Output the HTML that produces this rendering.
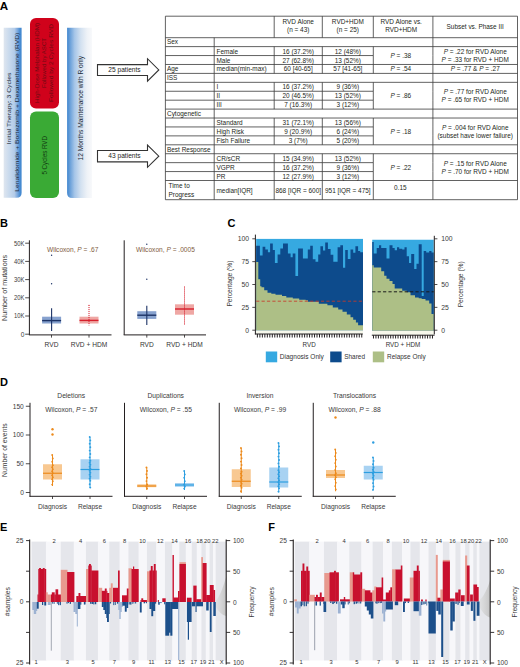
<!DOCTYPE html>
<html><head><meta charset="utf-8"><title>Figure</title>
<style>html,body{margin:0;padding:0;background:#fff;} svg{display:block;} text{font-family:"Liberation Sans", sans-serif;}</style>
</head><body>
<svg width="520" height="667" viewBox="0 0 520 667" font-family='"Liberation Sans", sans-serif' fill="#231f20">
<rect x="0" y="0" width="520" height="667" fill="#fff"/>
<text x="-0.20" y="9.66" font-size="11.6" fill="#000" font-weight="bold">A</text>
<defs>
<linearGradient id="gL" x1="0" x2="1" y1="0" y2="0"><stop offset="0" stop-color="#dfe6ef"/><stop offset="0.3" stop-color="#c9daed"/><stop offset="0.6" stop-color="#b3cbe8"/><stop offset="0.76" stop-color="#7eaade"/><stop offset="0.9" stop-color="#4a8dd2"/><stop offset="1" stop-color="#3f86cf"/></linearGradient>
<linearGradient id="gR" x1="0" x2="1" y1="0" y2="0"><stop offset="0" stop-color="#3f86cf"/><stop offset="0.12" stop-color="#6aa0d9"/><stop offset="0.3" stop-color="#a5c5e8"/><stop offset="0.55" stop-color="#d3e1f0"/><stop offset="0.8" stop-color="#eef2f7"/><stop offset="1" stop-color="#f8f9fb"/></linearGradient>
<linearGradient id="gX" x1="0" x2="1" y1="0" y2="0"><stop offset="0" stop-color="#d0d0d0" stop-opacity="0.3"/><stop offset="1" stop-color="#b8b8b8"/></linearGradient>
</defs>
<path d="M3.7,27.8 H21.6 V192.7 Q21.6,197.7 16.6,197.7 H3.7 Z" fill="url(#gL)"/>
<text transform="translate(9.30,108.50) rotate(-90)" x="0" y="2.17" font-size="6.2" text-anchor="middle" fill="#1d2b3a" textLength="72" lengthAdjust="spacingAndGlyphs">Initial  Therapy: 3 Cycles</text>
<text transform="translate(16.70,112.20) rotate(-90)" x="0" y="2.17" font-size="6.2" text-anchor="middle" fill="#1d2b3a" textLength="159" lengthAdjust="spacingAndGlyphs">Lenalidomide + Bortezomib + Dexamethasone (RVD)</text>
<rect x="30" y="18" width="29" height="90.5" rx="6" fill="#d0021b"/>
<text transform="translate(37.50,63.00) rotate(-90)" x="0" y="1.96" font-size="5.6" text-anchor="middle" fill="#6e0a12" textLength="80" lengthAdjust="spacingAndGlyphs">High-Dose Melphalan (HDM)</text>
<text transform="translate(44.50,63.00) rotate(-90)" x="0" y="1.96" font-size="5.6" text-anchor="middle" fill="#6e0a12" textLength="50" lengthAdjust="spacingAndGlyphs">Followed by ASCT</text>
<text transform="translate(51.50,63.00) rotate(-90)" x="0" y="1.96" font-size="5.6" text-anchor="middle" fill="#6e0a12" textLength="78" lengthAdjust="spacingAndGlyphs">Followed by 2 Cycles RVD</text>
<rect x="30" y="111.5" width="29" height="86.5" rx="6" fill="#3aaa35"/>
<text transform="translate(44.60,155.30) rotate(-90)" x="0" y="2.20" font-size="6.3" text-anchor="middle" fill="#123d12" textLength="38.6" lengthAdjust="spacingAndGlyphs">5 Cycles RVD</text>
<path d="M72.1,27.8 H92 V197.9 H72.1 Q67.1,197.9 67.1,192.9 V27.8 Z" fill="url(#gR)"/>
<text transform="translate(80.90,108.20) rotate(-90)" x="0" y="2.20" font-size="6.3" text-anchor="middle" fill="#1d2b3a" textLength="104.7" lengthAdjust="spacingAndGlyphs">12 Months Maintenance with R only</text>
<path d="M97.5,64.6 H147.5 V58.7 L158.8,69.9 L147.5,81.2 V75.5 H97.5 Z" fill="#fff" stroke="#333" stroke-width="1.1"/>
<text x="124.50" y="72.25" font-size="6.3" text-anchor="middle" fill="#222" textLength="32.3" lengthAdjust="spacingAndGlyphs">25 patients</text>
<path d="M97.5,150.5 H147.5 V145 L158.8,156.2 L147.5,167.3 V161.9 H97.5 Z" fill="#fff" stroke="#333" stroke-width="1.1"/>
<text x="124.50" y="158.41" font-size="6.3" text-anchor="middle" fill="#222" textLength="32.3" lengthAdjust="spacingAndGlyphs">43 patients</text>
<line x1="165.40" y1="16.20" x2="517.50" y2="16.20" stroke="#3a3a3a" stroke-width="0.8" />
<line x1="165.40" y1="199.70" x2="517.50" y2="199.70" stroke="#3a3a3a" stroke-width="0.8" />
<line x1="165.40" y1="16.20" x2="165.40" y2="199.70" stroke="#3a3a3a" stroke-width="0.8" />
<line x1="517.50" y1="16.20" x2="517.50" y2="199.70" stroke="#3a3a3a" stroke-width="0.8" />
<line x1="274.20" y1="16.20" x2="274.20" y2="37.70" stroke="#3a3a3a" stroke-width="0.8" />
<line x1="322.30" y1="16.20" x2="322.30" y2="37.70" stroke="#3a3a3a" stroke-width="0.8" />
<line x1="373.30" y1="16.20" x2="373.30" y2="37.70" stroke="#3a3a3a" stroke-width="0.8" />
<line x1="432.90" y1="16.20" x2="432.90" y2="37.70" stroke="#3a3a3a" stroke-width="0.8" />
<line x1="165.40" y1="37.70" x2="517.50" y2="37.70" stroke="#3a3a3a" stroke-width="0.8" />
<text x="298.20" y="24.26" font-size="6.45" text-anchor="middle">RVD Alone</text>
<text x="298.20" y="31.56" font-size="6.45" text-anchor="middle">(n = 43)</text>
<text x="347.80" y="24.26" font-size="6.45" text-anchor="middle">RVD+HDM</text>
<text x="347.80" y="31.56" font-size="6.45" text-anchor="middle">(n = 25)</text>
<text x="401.20" y="24.26" font-size="6.45" text-anchor="middle">RVD Alone vs.</text>
<text x="401.20" y="31.56" font-size="6.45" text-anchor="middle">RVD+HDM</text>
<text x="475.20" y="28.76" font-size="6.45" text-anchor="middle">Subset vs. Phase III</text>
<line x1="165.40" y1="46.62" x2="517.50" y2="46.62" stroke="#3a3a3a" stroke-width="0.8" />
<line x1="214.20" y1="37.70" x2="214.20" y2="46.62" stroke="#3a3a3a" stroke-width="0.8" />
<line x1="432.90" y1="37.70" x2="432.90" y2="46.62" stroke="#3a3a3a" stroke-width="0.8" />
<text x="167.00" y="44.42" font-size="6.45">Sex</text>
<line x1="165.40" y1="55.55" x2="373.30" y2="55.55" stroke="#3a3a3a" stroke-width="0.8" />
<line x1="214.20" y1="46.62" x2="214.20" y2="55.55" stroke="#3a3a3a" stroke-width="0.8" />
<line x1="274.20" y1="46.62" x2="274.20" y2="55.55" stroke="#3a3a3a" stroke-width="0.8" />
<line x1="322.30" y1="46.62" x2="322.30" y2="55.55" stroke="#3a3a3a" stroke-width="0.8" />
<line x1="373.30" y1="46.62" x2="373.30" y2="55.55" stroke="#3a3a3a" stroke-width="0.8" />
<line x1="432.90" y1="46.62" x2="432.90" y2="55.55" stroke="#3a3a3a" stroke-width="0.8" />
<text x="216.50" y="53.65" font-size="6.45">Female</text>
<text x="298.20" y="53.65" font-size="6.45" text-anchor="middle">16 (37.2%)</text>
<text x="347.80" y="53.65" font-size="6.45" text-anchor="middle">12 (48%)</text>
<line x1="165.40" y1="64.48" x2="517.50" y2="64.48" stroke="#3a3a3a" stroke-width="0.8" />
<line x1="214.20" y1="55.55" x2="214.20" y2="64.48" stroke="#3a3a3a" stroke-width="0.8" />
<line x1="274.20" y1="55.55" x2="274.20" y2="64.48" stroke="#3a3a3a" stroke-width="0.8" />
<line x1="322.30" y1="55.55" x2="322.30" y2="64.48" stroke="#3a3a3a" stroke-width="0.8" />
<line x1="373.30" y1="55.55" x2="373.30" y2="64.48" stroke="#3a3a3a" stroke-width="0.8" />
<line x1="432.90" y1="55.55" x2="432.90" y2="64.48" stroke="#3a3a3a" stroke-width="0.8" />
<text x="216.50" y="62.57" font-size="6.45">Male</text>
<text x="298.20" y="62.57" font-size="6.45" text-anchor="middle">27 (62.8%)</text>
<text x="347.80" y="62.57" font-size="6.45" text-anchor="middle">13 (52%)</text>
<line x1="165.40" y1="73.40" x2="517.50" y2="73.40" stroke="#3a3a3a" stroke-width="0.8" />
<line x1="214.20" y1="64.48" x2="214.20" y2="73.40" stroke="#3a3a3a" stroke-width="0.8" />
<line x1="274.20" y1="64.48" x2="274.20" y2="73.40" stroke="#3a3a3a" stroke-width="0.8" />
<line x1="322.30" y1="64.48" x2="322.30" y2="73.40" stroke="#3a3a3a" stroke-width="0.8" />
<line x1="373.30" y1="64.48" x2="373.30" y2="73.40" stroke="#3a3a3a" stroke-width="0.8" />
<line x1="432.90" y1="64.48" x2="432.90" y2="73.40" stroke="#3a3a3a" stroke-width="0.8" />
<text x="216.50" y="71.49" font-size="6.45">median(min-max)</text>
<text x="298.20" y="71.49" font-size="6.45" text-anchor="middle">60 [40-65]</text>
<text x="347.80" y="71.49" font-size="6.45" text-anchor="middle">57 [41-65]</text>
<text x="167.00" y="71.19" font-size="6.45">Age</text>
<line x1="165.40" y1="82.33" x2="517.50" y2="82.33" stroke="#3a3a3a" stroke-width="0.8" />
<line x1="214.20" y1="73.40" x2="214.20" y2="82.33" stroke="#3a3a3a" stroke-width="0.8" />
<line x1="432.90" y1="73.40" x2="432.90" y2="82.33" stroke="#3a3a3a" stroke-width="0.8" />
<text x="167.00" y="80.12" font-size="6.45">ISS</text>
<line x1="165.40" y1="91.25" x2="373.30" y2="91.25" stroke="#3a3a3a" stroke-width="0.8" />
<line x1="214.20" y1="82.33" x2="214.20" y2="91.25" stroke="#3a3a3a" stroke-width="0.8" />
<line x1="274.20" y1="82.33" x2="274.20" y2="91.25" stroke="#3a3a3a" stroke-width="0.8" />
<line x1="322.30" y1="82.33" x2="322.30" y2="91.25" stroke="#3a3a3a" stroke-width="0.8" />
<line x1="373.30" y1="82.33" x2="373.30" y2="91.25" stroke="#3a3a3a" stroke-width="0.8" />
<line x1="432.90" y1="82.33" x2="432.90" y2="91.25" stroke="#3a3a3a" stroke-width="0.8" />
<text x="216.50" y="89.34" font-size="6.45">I</text>
<text x="298.20" y="89.34" font-size="6.45" text-anchor="middle">16 (37.2%)</text>
<text x="347.80" y="89.34" font-size="6.45" text-anchor="middle">9 (36%)</text>
<line x1="165.40" y1="100.18" x2="373.30" y2="100.18" stroke="#3a3a3a" stroke-width="0.8" />
<line x1="214.20" y1="91.25" x2="214.20" y2="100.18" stroke="#3a3a3a" stroke-width="0.8" />
<line x1="274.20" y1="91.25" x2="274.20" y2="100.18" stroke="#3a3a3a" stroke-width="0.8" />
<line x1="322.30" y1="91.25" x2="322.30" y2="100.18" stroke="#3a3a3a" stroke-width="0.8" />
<line x1="373.30" y1="91.25" x2="373.30" y2="100.18" stroke="#3a3a3a" stroke-width="0.8" />
<line x1="432.90" y1="91.25" x2="432.90" y2="100.18" stroke="#3a3a3a" stroke-width="0.8" />
<text x="216.50" y="98.27" font-size="6.45">II</text>
<text x="298.20" y="98.27" font-size="6.45" text-anchor="middle">20 (46.5%)</text>
<text x="347.80" y="98.27" font-size="6.45" text-anchor="middle">13 (52%)</text>
<line x1="165.40" y1="109.10" x2="517.50" y2="109.10" stroke="#3a3a3a" stroke-width="0.8" />
<line x1="214.20" y1="100.18" x2="214.20" y2="109.10" stroke="#3a3a3a" stroke-width="0.8" />
<line x1="274.20" y1="100.18" x2="274.20" y2="109.10" stroke="#3a3a3a" stroke-width="0.8" />
<line x1="322.30" y1="100.18" x2="322.30" y2="109.10" stroke="#3a3a3a" stroke-width="0.8" />
<line x1="373.30" y1="100.18" x2="373.30" y2="109.10" stroke="#3a3a3a" stroke-width="0.8" />
<line x1="432.90" y1="100.18" x2="432.90" y2="109.10" stroke="#3a3a3a" stroke-width="0.8" />
<text x="216.50" y="107.20" font-size="6.45">III</text>
<text x="298.20" y="107.20" font-size="6.45" text-anchor="middle">7 (16.3%)</text>
<text x="347.80" y="107.20" font-size="6.45" text-anchor="middle">3 (12%)</text>
<line x1="165.40" y1="118.03" x2="517.50" y2="118.03" stroke="#3a3a3a" stroke-width="0.8" />
<line x1="214.20" y1="109.10" x2="214.20" y2="118.03" stroke="#3a3a3a" stroke-width="0.8" />
<line x1="432.90" y1="109.10" x2="432.90" y2="118.03" stroke="#3a3a3a" stroke-width="0.8" />
<text x="167.00" y="115.82" font-size="6.45">Cytogenetic</text>
<line x1="165.40" y1="126.95" x2="373.30" y2="126.95" stroke="#3a3a3a" stroke-width="0.8" />
<line x1="214.20" y1="118.03" x2="214.20" y2="126.95" stroke="#3a3a3a" stroke-width="0.8" />
<line x1="274.20" y1="118.03" x2="274.20" y2="126.95" stroke="#3a3a3a" stroke-width="0.8" />
<line x1="322.30" y1="118.03" x2="322.30" y2="126.95" stroke="#3a3a3a" stroke-width="0.8" />
<line x1="373.30" y1="118.03" x2="373.30" y2="126.95" stroke="#3a3a3a" stroke-width="0.8" />
<line x1="432.90" y1="118.03" x2="432.90" y2="126.95" stroke="#3a3a3a" stroke-width="0.8" />
<text x="216.50" y="125.05" font-size="6.45">Standard</text>
<text x="298.20" y="125.05" font-size="6.45" text-anchor="middle">31 (72.1%)</text>
<text x="347.80" y="125.05" font-size="6.45" text-anchor="middle">13 (56%)</text>
<line x1="165.40" y1="135.88" x2="373.30" y2="135.88" stroke="#3a3a3a" stroke-width="0.8" />
<line x1="214.20" y1="126.95" x2="214.20" y2="135.88" stroke="#3a3a3a" stroke-width="0.8" />
<line x1="274.20" y1="126.95" x2="274.20" y2="135.88" stroke="#3a3a3a" stroke-width="0.8" />
<line x1="322.30" y1="126.95" x2="322.30" y2="135.88" stroke="#3a3a3a" stroke-width="0.8" />
<line x1="373.30" y1="126.95" x2="373.30" y2="135.88" stroke="#3a3a3a" stroke-width="0.8" />
<line x1="432.90" y1="126.95" x2="432.90" y2="135.88" stroke="#3a3a3a" stroke-width="0.8" />
<text x="216.50" y="133.97" font-size="6.45">High Risk</text>
<text x="298.20" y="133.97" font-size="6.45" text-anchor="middle">9 (20.9%)</text>
<text x="347.80" y="133.97" font-size="6.45" text-anchor="middle">6 (24%)</text>
<line x1="165.40" y1="144.80" x2="517.50" y2="144.80" stroke="#3a3a3a" stroke-width="0.8" />
<line x1="214.20" y1="135.88" x2="214.20" y2="144.80" stroke="#3a3a3a" stroke-width="0.8" />
<line x1="274.20" y1="135.88" x2="274.20" y2="144.80" stroke="#3a3a3a" stroke-width="0.8" />
<line x1="322.30" y1="135.88" x2="322.30" y2="144.80" stroke="#3a3a3a" stroke-width="0.8" />
<line x1="373.30" y1="135.88" x2="373.30" y2="144.80" stroke="#3a3a3a" stroke-width="0.8" />
<line x1="432.90" y1="135.88" x2="432.90" y2="144.80" stroke="#3a3a3a" stroke-width="0.8" />
<text x="216.50" y="142.90" font-size="6.45">Fish Failure</text>
<text x="298.20" y="142.90" font-size="6.45" text-anchor="middle">3 (7%)</text>
<text x="347.80" y="142.90" font-size="6.45" text-anchor="middle">5 (20%)</text>
<line x1="165.40" y1="153.73" x2="517.50" y2="153.73" stroke="#3a3a3a" stroke-width="0.8" />
<line x1="214.20" y1="144.80" x2="214.20" y2="153.73" stroke="#3a3a3a" stroke-width="0.8" />
<line x1="432.90" y1="144.80" x2="432.90" y2="153.73" stroke="#3a3a3a" stroke-width="0.8" />
<text x="167.00" y="151.52" font-size="6.45">Best Response</text>
<line x1="165.40" y1="162.65" x2="373.30" y2="162.65" stroke="#3a3a3a" stroke-width="0.8" />
<line x1="214.20" y1="153.73" x2="214.20" y2="162.65" stroke="#3a3a3a" stroke-width="0.8" />
<line x1="274.20" y1="153.73" x2="274.20" y2="162.65" stroke="#3a3a3a" stroke-width="0.8" />
<line x1="322.30" y1="153.73" x2="322.30" y2="162.65" stroke="#3a3a3a" stroke-width="0.8" />
<line x1="373.30" y1="153.73" x2="373.30" y2="162.65" stroke="#3a3a3a" stroke-width="0.8" />
<line x1="432.90" y1="153.73" x2="432.90" y2="162.65" stroke="#3a3a3a" stroke-width="0.8" />
<text x="216.50" y="160.75" font-size="6.45">CR/sCR</text>
<text x="298.20" y="160.75" font-size="6.45" text-anchor="middle">15 (34.9%)</text>
<text x="347.80" y="160.75" font-size="6.45" text-anchor="middle">13 (52%)</text>
<line x1="165.40" y1="171.57" x2="373.30" y2="171.57" stroke="#3a3a3a" stroke-width="0.8" />
<line x1="214.20" y1="162.65" x2="214.20" y2="171.57" stroke="#3a3a3a" stroke-width="0.8" />
<line x1="274.20" y1="162.65" x2="274.20" y2="171.57" stroke="#3a3a3a" stroke-width="0.8" />
<line x1="322.30" y1="162.65" x2="322.30" y2="171.57" stroke="#3a3a3a" stroke-width="0.8" />
<line x1="373.30" y1="162.65" x2="373.30" y2="171.57" stroke="#3a3a3a" stroke-width="0.8" />
<line x1="432.90" y1="162.65" x2="432.90" y2="171.57" stroke="#3a3a3a" stroke-width="0.8" />
<text x="216.50" y="169.67" font-size="6.45">VGPR</text>
<text x="298.20" y="169.67" font-size="6.45" text-anchor="middle">16 (37.2%)</text>
<text x="347.80" y="169.67" font-size="6.45" text-anchor="middle">9 (36%)</text>
<line x1="165.40" y1="180.50" x2="517.50" y2="180.50" stroke="#3a3a3a" stroke-width="0.8" />
<line x1="214.20" y1="171.57" x2="214.20" y2="180.50" stroke="#3a3a3a" stroke-width="0.8" />
<line x1="274.20" y1="171.57" x2="274.20" y2="180.50" stroke="#3a3a3a" stroke-width="0.8" />
<line x1="322.30" y1="171.57" x2="322.30" y2="180.50" stroke="#3a3a3a" stroke-width="0.8" />
<line x1="373.30" y1="171.57" x2="373.30" y2="180.50" stroke="#3a3a3a" stroke-width="0.8" />
<line x1="432.90" y1="171.57" x2="432.90" y2="180.50" stroke="#3a3a3a" stroke-width="0.8" />
<text x="216.50" y="178.59" font-size="6.45">PR</text>
<text x="298.20" y="178.59" font-size="6.45" text-anchor="middle">12 (27.9%)</text>
<text x="347.80" y="178.59" font-size="6.45" text-anchor="middle">3 (12%)</text>
<text x="400.8" y="58.11" font-size="6.45" text-anchor="middle"><tspan font-style="italic">P</tspan> = .38</text>
<text x="475.2" y="54.21" font-size="6.45" text-anchor="middle"><tspan font-style="italic">P</tspan> = .22 for RVD Alone</text>
<text x="475.2" y="62.01" font-size="6.45" text-anchor="middle"><tspan font-style="italic">P</tspan> = .33 for RVD + HDM</text>
<text x="400.8" y="71.49" font-size="6.45" text-anchor="middle"><tspan font-style="italic">P</tspan> = .54</text>
<text x="475.2" y="71.49" font-size="6.45" text-anchor="middle"><tspan font-style="italic">P</tspan> = .77 &amp; <tspan font-style="italic">P</tspan> = .27</text>
<text x="400.8" y="98.27" font-size="6.45" text-anchor="middle"><tspan font-style="italic">P</tspan> = .86</text>
<text x="475.2" y="94.37" font-size="6.45" text-anchor="middle"><tspan font-style="italic">P</tspan> = .77 for RVD Alone</text>
<text x="475.2" y="102.17" font-size="6.45" text-anchor="middle"><tspan font-style="italic">P</tspan> = .65 for RVD + HDM</text>
<text x="400.8" y="133.97" font-size="6.45" text-anchor="middle"><tspan font-style="italic">P</tspan> = .18</text>
<text x="475.2" y="130.07" font-size="6.45" text-anchor="middle"><tspan font-style="italic">P</tspan> = .004 for RVD Alone</text>
<text x="475.2" y="137.87" font-size="6.45" text-anchor="middle">(subset have lower failure)</text>
<text x="400.8" y="169.67" font-size="6.45" text-anchor="middle"><tspan font-style="italic">P</tspan> = .22</text>
<text x="475.2" y="165.77" font-size="6.45" text-anchor="middle"><tspan font-style="italic">P</tspan> = .15 for RVD Alone</text>
<text x="475.2" y="173.57" font-size="6.45" text-anchor="middle"><tspan font-style="italic">P</tspan> = .70 for RVD + HDM</text>
<line x1="214.20" y1="180.50" x2="214.20" y2="199.70" stroke="#3a3a3a" stroke-width="0.8" />
<line x1="274.20" y1="180.50" x2="274.20" y2="199.70" stroke="#3a3a3a" stroke-width="0.8" />
<line x1="322.30" y1="180.50" x2="322.30" y2="199.70" stroke="#3a3a3a" stroke-width="0.8" />
<line x1="373.30" y1="180.50" x2="373.30" y2="199.70" stroke="#3a3a3a" stroke-width="0.8" />
<line x1="432.90" y1="180.50" x2="432.90" y2="199.70" stroke="#3a3a3a" stroke-width="0.8" />
<text x="168.50" y="187.86" font-size="6.45">Time to</text>
<text x="168.50" y="196.66" font-size="6.45">Progress</text>
<text x="216.50" y="192.56" font-size="6.45">median[IQR]</text>
<text x="298.20" y="192.56" font-size="6.45" text-anchor="middle">868 [IQR = 600]</text>
<text x="347.80" y="192.56" font-size="6.45" text-anchor="middle">951 [IQR = 475]</text>
<text x="400.30" y="189.76" font-size="6.45" text-anchor="middle">0.15</text>
<text x="0.00" y="226.85" font-size="11" fill="#000" font-weight="bold">B</text>
<line x1="29.40" y1="240.30" x2="29.40" y2="334.90" stroke="#231f20" stroke-width="1" />
<line x1="28.90" y1="334.90" x2="111.50" y2="334.90" stroke="#231f20" stroke-width="1" />
<line x1="25.20" y1="334.20" x2="29.40" y2="334.20" stroke="#231f20" stroke-width="0.8" />
<text x="24.40" y="336.51" font-size="6.6" text-anchor="end" fill="#3a3a3a">0</text>
<line x1="25.20" y1="316.00" x2="29.40" y2="316.00" stroke="#231f20" stroke-width="0.8" />
<text x="24.40" y="318.31" font-size="6.6" text-anchor="end" fill="#3a3a3a" textLength="10.4" lengthAdjust="spacingAndGlyphs">10K</text>
<line x1="25.20" y1="297.80" x2="29.40" y2="297.80" stroke="#231f20" stroke-width="0.8" />
<text x="24.40" y="300.11" font-size="6.6" text-anchor="end" fill="#3a3a3a" textLength="10.4" lengthAdjust="spacingAndGlyphs">20K</text>
<line x1="25.20" y1="279.60" x2="29.40" y2="279.60" stroke="#231f20" stroke-width="0.8" />
<text x="24.40" y="281.91" font-size="6.6" text-anchor="end" fill="#3a3a3a" textLength="10.4" lengthAdjust="spacingAndGlyphs">30K</text>
<line x1="25.20" y1="261.40" x2="29.40" y2="261.40" stroke="#231f20" stroke-width="0.8" />
<text x="24.40" y="263.71" font-size="6.6" text-anchor="end" fill="#3a3a3a" textLength="10.4" lengthAdjust="spacingAndGlyphs">40K</text>
<line x1="25.20" y1="243.20" x2="29.40" y2="243.20" stroke="#231f20" stroke-width="0.8" />
<text x="24.40" y="245.51" font-size="6.6" text-anchor="end" fill="#3a3a3a" textLength="10.4" lengthAdjust="spacingAndGlyphs">50K</text>
<text transform="translate(5.00,287.90) rotate(-90)" x="0" y="2.45" font-size="7.0" text-anchor="middle" fill="#3a3a3a" textLength="66" lengthAdjust="spacingAndGlyphs">Number of mutations</text>
<line x1="124.20" y1="240.30" x2="124.20" y2="334.90" stroke="#231f20" stroke-width="1" />
<line x1="123.70" y1="334.90" x2="206.00" y2="334.90" stroke="#231f20" stroke-width="1" />
<line x1="51.50" y1="334.90" x2="51.50" y2="337.60" stroke="#231f20" stroke-width="0.8" />
<line x1="89.00" y1="334.90" x2="89.00" y2="337.60" stroke="#231f20" stroke-width="0.8" />
<line x1="146.80" y1="334.90" x2="146.80" y2="337.60" stroke="#231f20" stroke-width="0.8" />
<line x1="184.50" y1="334.90" x2="184.50" y2="337.60" stroke="#231f20" stroke-width="0.8" />
<text x="51.50" y="346.91" font-size="6.6" text-anchor="middle" fill="#333">RVD</text>
<text x="89.00" y="346.91" font-size="6.6" text-anchor="middle" fill="#333">RVD + HDM</text>
<text x="146.80" y="346.91" font-size="6.6" text-anchor="middle" fill="#333">RVD</text>
<text x="184.50" y="346.91" font-size="6.6" text-anchor="middle" fill="#333">RVD + HDM</text>
<text x="72.7" y="251.80" font-size="6.6" text-anchor="middle" fill="#7f5c3e">Wilcoxon, <tspan font-style="italic">P</tspan> = .67</text>
<text x="165.4" y="252.20" font-size="6.6" text-anchor="middle" fill="#7f5c3e">Wilcoxon, <tspan font-style="italic">P</tspan> = .0005</text>
<rect x="42.10" y="316.70" width="19.00" height="6.80" fill="#5f83bf" fill-opacity="0.75"/>
<line x1="51.60" y1="308.20" x2="51.60" y2="331.10" stroke="#1c3366" stroke-width="1.1" />
<line x1="42.10" y1="320.60" x2="61.10" y2="320.60" stroke="#1c3366" stroke-width="1.4" />
<circle cx="51.60" cy="255.20" r="0.7" fill="#1c3366"/>
<circle cx="51.60" cy="283.75" r="0.7" fill="#1c3366"/>
<rect x="79.50" y="316.70" width="19.00" height="6.80" fill="#e98a86" fill-opacity="0.75"/>
<line x1="89.00" y1="307.00" x2="89.00" y2="325.40" stroke="#d61f2c" stroke-width="1.0" stroke-dasharray="1.1,0.9"/>
<line x1="79.50" y1="320.40" x2="98.50" y2="320.40" stroke="#d61f2c" stroke-width="1.4" />
<circle cx="89.00" cy="305.40" r="0.7" fill="#d61f2c"/>
<rect x="137.30" y="311.20" width="19.00" height="7.70" fill="#5f83bf" fill-opacity="0.75"/>
<line x1="146.80" y1="305.70" x2="146.80" y2="325.00" stroke="#1c3366" stroke-width="1.1" />
<line x1="137.30" y1="315.20" x2="156.30" y2="315.20" stroke="#1c3366" stroke-width="1.4" />
<circle cx="146.80" cy="279.20" r="0.7" fill="#1c3366"/>
<circle cx="146.80" cy="244.30" r="0.7" fill="#1c3366"/>
<rect x="175.00" y="304.30" width="19.00" height="10.40" fill="#e98a86" fill-opacity="0.75"/>
<line x1="184.50" y1="286.50" x2="184.50" y2="325.00" stroke="#d61f2c" stroke-width="1.0" stroke-dasharray="1.1,0.9"/>
<line x1="175.00" y1="309.00" x2="194.00" y2="309.00" stroke="#d61f2c" stroke-width="1.4" />
<text x="227.50" y="226.85" font-size="11" fill="#000" font-weight="bold">C</text>
<rect x="256.15" y="238.90" width="106.85" height="91.60" fill="#36a9e1" />
<path d="M256.15,330.50 L256.15,245.68 L259.90,245.68 L259.90,255.39 L262.60,255.39 L262.60,246.78 L265.30,246.78 L265.30,249.43 L267.90,249.43 L267.90,252.18 L270.10,252.18 L270.10,243.48 L272.80,243.48 L272.80,249.89 L274.90,249.89 L274.90,262.90 L277.60,262.90 L277.60,254.47 L280.30,254.47 L280.30,248.43 L283.00,248.43 L283.00,243.48 L287.90,243.48 L287.90,253.56 L290.60,253.56 L290.60,257.22 L292.70,257.22 L292.70,253.56 L295.40,253.56 L295.40,275.91 L298.10,275.91 L298.10,248.43 L302.90,248.43 L302.90,258.59 L307.80,258.59 L307.80,249.43 L310.20,249.43 L310.20,245.68 L312.80,245.68 L312.80,259.14 L315.50,259.14 L315.50,261.80 L318.20,261.80 L318.20,254.47 L320.40,254.47 L320.40,246.23 L323.00,246.23 L323.00,250.53 L325.20,250.53 L325.20,242.56 L327.90,242.56 L327.90,248.98 L330.60,248.98 L330.60,254.84 L333.30,254.84 L333.30,261.80 L337.60,261.80 L337.60,247.33 L340.30,247.33 L340.30,245.31 L343.00,245.31 L343.00,267.75 L345.20,267.75 L345.20,249.98 L347.80,249.98 L347.80,259.05 L350.50,259.05 L350.50,249.43 L353.20,249.43 L353.20,252.64 L355.40,252.64 L355.40,246.23 L358.10,246.23 L358.10,251.08 L360.20,251.08 L360.20,252.18 L363.00,252.18 L363.00,330.50 Z" fill="#0d4b8c"/>
<path d="M256.15,330.50 L256.15,261.98 L258.30,261.98 L258.30,279.20 L260.20,279.20 L260.20,286.17 L261.50,286.17 L261.50,287.26 L264.20,287.26 L264.20,290.20 L267.50,290.20 L267.50,292.67 L271.30,292.67 L271.30,293.86 L275.50,293.86 L275.50,294.78 L282.00,294.78 L282.00,295.88 L286.30,295.88 L286.30,297.52 L292.80,297.52 L292.80,298.62 L299.20,298.62 L299.20,299.72 L305.70,299.72 L305.70,300.27 L308.00,300.27 L308.00,301.83 L318.80,301.83 L318.80,303.66 L327.40,303.66 L327.40,305.31 L332.80,305.31 L332.80,307.51 L338.20,307.51 L338.20,309.62 L342.50,309.62 L342.50,311.81 L346.80,311.81 L346.80,314.47 L350.50,314.47 L350.50,317.22 L353.20,317.22 L353.20,319.78 L355.90,319.78 L355.90,322.53 L358.10,322.53 L358.10,325.19 L363.00,325.19 L363.00,330.50 Z" fill="#adbf86"/>
<rect x="256.15" y="330.50" width="106.85" height="3.30" fill="#f7f8ec" />
<line x1="256.15" y1="301.20" x2="363.00" y2="301.20" stroke="#c83a2a" stroke-width="1.0" stroke-dasharray="3.2,2.2" stroke-opacity="0.85"/>
<rect x="372.25" y="239.75" width="61.45" height="91.05" fill="#36a9e1" />
<path d="M372.25,330.80 L372.25,242.03 L373.70,242.03 L373.70,253.41 L376.70,253.41 L376.70,247.94 L379.00,247.94 L379.00,245.21 L381.20,245.21 L381.20,247.94 L383.50,247.94 L383.50,247.94 L386.50,247.94 L386.50,258.51 L389.50,258.51 L389.50,245.21 L392.50,245.21 L392.50,247.94 L394.70,247.94 L394.70,250.22 L397.00,250.22 L397.00,247.22 L399.20,247.22 L399.20,248.86 L402.20,248.86 L402.20,249.49 L404.50,249.49 L404.50,247.22 L406.70,247.22 L406.70,256.23 L409.00,256.23 L409.00,262.97 L411.20,262.97 L411.20,254.04 L414.20,254.04 L414.20,268.98 L416.50,268.98 L416.50,263.79 L418.70,263.79 L418.70,244.30 L421.70,244.30 L421.70,296.02 L423.70,296.02 L423.70,251.04 L426.20,251.04 L426.20,252.50 L429.20,252.50 L429.20,251.04 L431.50,251.04 L431.50,252.50 L433.70,252.50 L433.70,330.80 Z" fill="#0d4b8c"/>
<path d="M372.25,330.80 L372.25,265.24 L373.70,265.24 L373.70,267.52 L381.20,267.52 L381.20,271.25 L384.20,271.25 L384.20,275.71 L386.50,275.71 L386.50,278.72 L389.50,278.72 L389.50,281.00 L392.50,281.00 L392.50,284.00 L394.70,284.00 L394.70,288.46 L402.20,288.46 L402.20,290.74 L406.70,290.74 L406.70,292.29 L410.50,292.29 L410.50,295.29 L415.00,295.29 L415.00,297.48 L418.70,297.48 L418.70,298.30 L421.70,298.30 L421.70,299.02 L425.50,299.02 L425.50,300.48 L429.20,300.48 L429.20,303.49 L431.50,303.49 L431.50,313.96 L433.70,313.96 L433.70,330.80 Z" fill="#adbf86"/>
<rect x="372.25" y="330.80" width="61.45" height="4.00" fill="#f7f8ec" />
<line x1="372.25" y1="291.80" x2="433.70" y2="291.80" stroke="#1a1a1a" stroke-width="1.0" stroke-dasharray="3.2,2.2"/>
<line x1="255.40" y1="234.60" x2="255.40" y2="334.40" stroke="#231f20" stroke-width="1" />
<line x1="254.90" y1="334.00" x2="362.80" y2="334.00" stroke="#231f20" stroke-width="1" />
<line x1="371.80" y1="335.20" x2="434.60" y2="335.20" stroke="#231f20" stroke-width="1" />
<line x1="434.30" y1="235.80" x2="434.30" y2="334.40" stroke="#231f20" stroke-width="1" />
<line x1="257.39" y1="334.00" x2="257.39" y2="337.50" stroke="#231f20" stroke-width="1.0" />
<line x1="259.88" y1="334.00" x2="259.88" y2="337.50" stroke="#231f20" stroke-width="1.0" />
<line x1="262.36" y1="334.00" x2="262.36" y2="337.50" stroke="#231f20" stroke-width="1.0" />
<line x1="264.85" y1="334.00" x2="264.85" y2="337.50" stroke="#231f20" stroke-width="1.0" />
<line x1="267.33" y1="334.00" x2="267.33" y2="337.50" stroke="#231f20" stroke-width="1.0" />
<line x1="269.82" y1="334.00" x2="269.82" y2="337.50" stroke="#231f20" stroke-width="1.0" />
<line x1="272.30" y1="334.00" x2="272.30" y2="337.50" stroke="#231f20" stroke-width="1.0" />
<line x1="274.79" y1="334.00" x2="274.79" y2="337.50" stroke="#231f20" stroke-width="1.0" />
<line x1="277.27" y1="334.00" x2="277.27" y2="337.50" stroke="#231f20" stroke-width="1.0" />
<line x1="279.76" y1="334.00" x2="279.76" y2="337.50" stroke="#231f20" stroke-width="1.0" />
<line x1="282.24" y1="334.00" x2="282.24" y2="337.50" stroke="#231f20" stroke-width="1.0" />
<line x1="284.73" y1="334.00" x2="284.73" y2="337.50" stroke="#231f20" stroke-width="1.0" />
<line x1="287.21" y1="334.00" x2="287.21" y2="337.50" stroke="#231f20" stroke-width="1.0" />
<line x1="289.70" y1="334.00" x2="289.70" y2="337.50" stroke="#231f20" stroke-width="1.0" />
<line x1="292.18" y1="334.00" x2="292.18" y2="337.50" stroke="#231f20" stroke-width="1.0" />
<line x1="294.67" y1="334.00" x2="294.67" y2="337.50" stroke="#231f20" stroke-width="1.0" />
<line x1="297.15" y1="334.00" x2="297.15" y2="337.50" stroke="#231f20" stroke-width="1.0" />
<line x1="299.64" y1="334.00" x2="299.64" y2="337.50" stroke="#231f20" stroke-width="1.0" />
<line x1="302.12" y1="334.00" x2="302.12" y2="337.50" stroke="#231f20" stroke-width="1.0" />
<line x1="304.61" y1="334.00" x2="304.61" y2="337.50" stroke="#231f20" stroke-width="1.0" />
<line x1="307.09" y1="334.00" x2="307.09" y2="337.50" stroke="#231f20" stroke-width="1.0" />
<line x1="309.57" y1="334.00" x2="309.57" y2="337.50" stroke="#231f20" stroke-width="1.0" />
<line x1="312.06" y1="334.00" x2="312.06" y2="337.50" stroke="#231f20" stroke-width="1.0" />
<line x1="314.54" y1="334.00" x2="314.54" y2="337.50" stroke="#231f20" stroke-width="1.0" />
<line x1="317.03" y1="334.00" x2="317.03" y2="337.50" stroke="#231f20" stroke-width="1.0" />
<line x1="319.51" y1="334.00" x2="319.51" y2="337.50" stroke="#231f20" stroke-width="1.0" />
<line x1="322.00" y1="334.00" x2="322.00" y2="337.50" stroke="#231f20" stroke-width="1.0" />
<line x1="324.48" y1="334.00" x2="324.48" y2="337.50" stroke="#231f20" stroke-width="1.0" />
<line x1="326.97" y1="334.00" x2="326.97" y2="337.50" stroke="#231f20" stroke-width="1.0" />
<line x1="329.45" y1="334.00" x2="329.45" y2="337.50" stroke="#231f20" stroke-width="1.0" />
<line x1="331.94" y1="334.00" x2="331.94" y2="337.50" stroke="#231f20" stroke-width="1.0" />
<line x1="334.42" y1="334.00" x2="334.42" y2="337.50" stroke="#231f20" stroke-width="1.0" />
<line x1="336.91" y1="334.00" x2="336.91" y2="337.50" stroke="#231f20" stroke-width="1.0" />
<line x1="339.39" y1="334.00" x2="339.39" y2="337.50" stroke="#231f20" stroke-width="1.0" />
<line x1="341.88" y1="334.00" x2="341.88" y2="337.50" stroke="#231f20" stroke-width="1.0" />
<line x1="344.36" y1="334.00" x2="344.36" y2="337.50" stroke="#231f20" stroke-width="1.0" />
<line x1="346.85" y1="334.00" x2="346.85" y2="337.50" stroke="#231f20" stroke-width="1.0" />
<line x1="349.33" y1="334.00" x2="349.33" y2="337.50" stroke="#231f20" stroke-width="1.0" />
<line x1="351.82" y1="334.00" x2="351.82" y2="337.50" stroke="#231f20" stroke-width="1.0" />
<line x1="354.30" y1="334.00" x2="354.30" y2="337.50" stroke="#231f20" stroke-width="1.0" />
<line x1="356.79" y1="334.00" x2="356.79" y2="337.50" stroke="#231f20" stroke-width="1.0" />
<line x1="359.27" y1="334.00" x2="359.27" y2="337.50" stroke="#231f20" stroke-width="1.0" />
<line x1="361.76" y1="334.00" x2="361.76" y2="337.50" stroke="#231f20" stroke-width="1.0" />
<line x1="373.48" y1="335.20" x2="373.48" y2="338.50" stroke="#231f20" stroke-width="1.0" />
<line x1="375.94" y1="335.20" x2="375.94" y2="338.50" stroke="#231f20" stroke-width="1.0" />
<line x1="378.39" y1="335.20" x2="378.39" y2="338.50" stroke="#231f20" stroke-width="1.0" />
<line x1="380.85" y1="335.20" x2="380.85" y2="338.50" stroke="#231f20" stroke-width="1.0" />
<line x1="383.31" y1="335.20" x2="383.31" y2="338.50" stroke="#231f20" stroke-width="1.0" />
<line x1="385.77" y1="335.20" x2="385.77" y2="338.50" stroke="#231f20" stroke-width="1.0" />
<line x1="388.23" y1="335.20" x2="388.23" y2="338.50" stroke="#231f20" stroke-width="1.0" />
<line x1="390.69" y1="335.20" x2="390.69" y2="338.50" stroke="#231f20" stroke-width="1.0" />
<line x1="393.14" y1="335.20" x2="393.14" y2="338.50" stroke="#231f20" stroke-width="1.0" />
<line x1="395.60" y1="335.20" x2="395.60" y2="338.50" stroke="#231f20" stroke-width="1.0" />
<line x1="398.06" y1="335.20" x2="398.06" y2="338.50" stroke="#231f20" stroke-width="1.0" />
<line x1="400.52" y1="335.20" x2="400.52" y2="338.50" stroke="#231f20" stroke-width="1.0" />
<line x1="402.98" y1="335.20" x2="402.98" y2="338.50" stroke="#231f20" stroke-width="1.0" />
<line x1="405.43" y1="335.20" x2="405.43" y2="338.50" stroke="#231f20" stroke-width="1.0" />
<line x1="407.89" y1="335.20" x2="407.89" y2="338.50" stroke="#231f20" stroke-width="1.0" />
<line x1="410.35" y1="335.20" x2="410.35" y2="338.50" stroke="#231f20" stroke-width="1.0" />
<line x1="412.81" y1="335.20" x2="412.81" y2="338.50" stroke="#231f20" stroke-width="1.0" />
<line x1="415.26" y1="335.20" x2="415.26" y2="338.50" stroke="#231f20" stroke-width="1.0" />
<line x1="417.72" y1="335.20" x2="417.72" y2="338.50" stroke="#231f20" stroke-width="1.0" />
<line x1="420.18" y1="335.20" x2="420.18" y2="338.50" stroke="#231f20" stroke-width="1.0" />
<line x1="422.64" y1="335.20" x2="422.64" y2="338.50" stroke="#231f20" stroke-width="1.0" />
<line x1="425.10" y1="335.20" x2="425.10" y2="338.50" stroke="#231f20" stroke-width="1.0" />
<line x1="427.56" y1="335.20" x2="427.56" y2="338.50" stroke="#231f20" stroke-width="1.0" />
<line x1="430.01" y1="335.20" x2="430.01" y2="338.50" stroke="#231f20" stroke-width="1.0" />
<line x1="432.47" y1="335.20" x2="432.47" y2="338.50" stroke="#231f20" stroke-width="1.0" />
<line x1="252.30" y1="238.80" x2="255.40" y2="238.80" stroke="#231f20" stroke-width="0.8" />
<text x="249.00" y="241.18" font-size="6.8" text-anchor="end" fill="#3a3a3a">100</text>
<line x1="434.30" y1="238.80" x2="437.40" y2="238.80" stroke="#231f20" stroke-width="0.8" />
<text x="441.20" y="241.18" font-size="6.8" fill="#3a3a3a">100</text>
<line x1="252.30" y1="261.65" x2="255.40" y2="261.65" stroke="#231f20" stroke-width="0.8" />
<text x="249.00" y="264.03" font-size="6.8" text-anchor="end" fill="#3a3a3a">75</text>
<line x1="434.30" y1="261.65" x2="437.40" y2="261.65" stroke="#231f20" stroke-width="0.8" />
<text x="441.20" y="264.03" font-size="6.8" fill="#3a3a3a">75</text>
<line x1="252.30" y1="284.50" x2="255.40" y2="284.50" stroke="#231f20" stroke-width="0.8" />
<text x="249.00" y="286.88" font-size="6.8" text-anchor="end" fill="#3a3a3a">50</text>
<line x1="434.30" y1="284.50" x2="437.40" y2="284.50" stroke="#231f20" stroke-width="0.8" />
<text x="441.20" y="286.88" font-size="6.8" fill="#3a3a3a">50</text>
<line x1="252.30" y1="307.35" x2="255.40" y2="307.35" stroke="#231f20" stroke-width="0.8" />
<text x="249.00" y="309.73" font-size="6.8" text-anchor="end" fill="#3a3a3a">25</text>
<line x1="434.30" y1="307.35" x2="437.40" y2="307.35" stroke="#231f20" stroke-width="0.8" />
<text x="441.20" y="309.73" font-size="6.8" fill="#3a3a3a">25</text>
<line x1="252.30" y1="330.20" x2="255.40" y2="330.20" stroke="#231f20" stroke-width="0.8" />
<text x="249.00" y="332.58" font-size="6.8" text-anchor="end" fill="#3a3a3a">0</text>
<line x1="434.30" y1="330.20" x2="437.40" y2="330.20" stroke="#231f20" stroke-width="0.8" />
<text x="441.20" y="332.58" font-size="6.8" fill="#3a3a3a">0</text>
<text transform="translate(229.60,283.60) rotate(-90)" x="0" y="2.38" font-size="6.8" text-anchor="middle" fill="#3a3a3a" textLength="46" lengthAdjust="spacingAndGlyphs">Percentage (%)</text>
<text transform="translate(461.00,284.30) rotate(-90)" x="0" y="2.38" font-size="6.8" text-anchor="middle" fill="#3a3a3a" textLength="46" lengthAdjust="spacingAndGlyphs">Percentage (%)</text>
<text x="309.20" y="346.70" font-size="6.3" text-anchor="middle" fill="#333">RVD</text>
<text x="403.00" y="347.00" font-size="6.3" text-anchor="middle" fill="#333">RVD + HDM</text>
<rect x="265.80" y="351.50" width="11.40" height="10.80" fill="#36a9e1" />
<text x="279.80" y="359.40" font-size="6.3" fill="#333" textLength="44" lengthAdjust="spacingAndGlyphs">Diagnosis Only</text>
<rect x="330.20" y="351.50" width="11.40" height="10.80" fill="#0d4b8c" />
<text x="344.20" y="359.40" font-size="6.3" fill="#333" textLength="20.8" lengthAdjust="spacingAndGlyphs">Shared</text>
<rect x="372.80" y="351.50" width="11.40" height="10.80" fill="#adbf86" />
<text x="387.00" y="359.40" font-size="6.3" fill="#333" textLength="38.7" lengthAdjust="spacingAndGlyphs">Relapse Only</text>
<text x="0.00" y="386.35" font-size="11" fill="#000" font-weight="bold">D</text>
<line x1="30.00" y1="402.80" x2="30.00" y2="496.70" stroke="#231f20" stroke-width="1" />
<line x1="29.50" y1="496.30" x2="112.50" y2="496.30" stroke="#231f20" stroke-width="1" />
<text x="71.25" y="398.15" font-size="6.7" text-anchor="middle" fill="#3a3a3a">Deletions</text>
<text x="71.25" y="411.80" font-size="6.7" text-anchor="middle" fill="#3a3a3a">Wilcoxon, <tspan font-style="italic">P</tspan> = .57</text>
<line x1="124.50" y1="402.80" x2="124.50" y2="496.70" stroke="#231f20" stroke-width="1" />
<line x1="124.00" y1="496.30" x2="207.00" y2="496.30" stroke="#231f20" stroke-width="1" />
<text x="165.75" y="398.15" font-size="6.7" text-anchor="middle" fill="#3a3a3a">Duplications</text>
<text x="165.75" y="411.80" font-size="6.7" text-anchor="middle" fill="#3a3a3a">Wilcoxon, <tspan font-style="italic">P</tspan> = .55</text>
<line x1="219.25" y1="402.80" x2="219.25" y2="496.70" stroke="#231f20" stroke-width="1" />
<line x1="218.75" y1="496.30" x2="301.75" y2="496.30" stroke="#231f20" stroke-width="1" />
<text x="260.00" y="398.15" font-size="6.7" text-anchor="middle" fill="#3a3a3a">Inversion</text>
<text x="260" y="411.80" font-size="6.7" text-anchor="middle" fill="#3a3a3a">Wilcoxon, <tspan font-style="italic">P</tspan> = .99</text>
<line x1="313.25" y1="402.80" x2="313.25" y2="496.70" stroke="#231f20" stroke-width="1" />
<line x1="312.75" y1="496.30" x2="395.75" y2="496.30" stroke="#231f20" stroke-width="1" />
<text x="354.50" y="398.15" font-size="6.7" text-anchor="middle" fill="#3a3a3a">Translocations</text>
<text x="354.5" y="411.80" font-size="6.7" text-anchor="middle" fill="#3a3a3a">Wilcoxon, <tspan font-style="italic">P</tspan> = .88</text>
<line x1="25.80" y1="492.50" x2="30.00" y2="492.50" stroke="#231f20" stroke-width="0.8" />
<text x="23.80" y="494.81" font-size="6.6" text-anchor="end" fill="#3a3a3a">0</text>
<line x1="25.80" y1="463.75" x2="30.00" y2="463.75" stroke="#231f20" stroke-width="0.8" />
<text x="23.80" y="466.06" font-size="6.6" text-anchor="end" fill="#3a3a3a">50</text>
<line x1="25.80" y1="435.00" x2="30.00" y2="435.00" stroke="#231f20" stroke-width="0.8" />
<text x="23.80" y="437.31" font-size="6.6" text-anchor="end" fill="#3a3a3a">100</text>
<line x1="25.80" y1="406.25" x2="30.00" y2="406.25" stroke="#231f20" stroke-width="0.8" />
<text x="23.80" y="408.56" font-size="6.6" text-anchor="end" fill="#3a3a3a">150</text>
<text transform="translate(5.00,450.10) rotate(-90)" x="0" y="2.38" font-size="6.8" text-anchor="middle" fill="#3a3a3a" textLength="53.6" lengthAdjust="spacingAndGlyphs">Number of events</text>
<rect x="43.00" y="464.25" width="19.00" height="15.25" fill="#f8c891" />
<line x1="43.00" y1="473.25" x2="62.00" y2="473.25" stroke="#ec8a1c" stroke-width="1.2" />
<line x1="52.50" y1="455.00" x2="52.50" y2="486.00" stroke="#ec8a1c" stroke-width="1.0" />
<circle cx="52.20" cy="455.00" r="0.95" fill="#ec8a1c"/>
<circle cx="52.80" cy="458.40" r="0.95" fill="#ec8a1c"/>
<circle cx="52.20" cy="461.80" r="0.95" fill="#ec8a1c"/>
<circle cx="52.80" cy="465.20" r="1.05" fill="#ec8a1c"/>
<circle cx="52.20" cy="467.20" r="1.05" fill="#ec8a1c"/>
<circle cx="52.80" cy="469.20" r="1.05" fill="#ec8a1c"/>
<circle cx="52.20" cy="471.20" r="1.05" fill="#ec8a1c"/>
<circle cx="52.80" cy="473.20" r="1.05" fill="#ec8a1c"/>
<circle cx="52.20" cy="475.20" r="1.05" fill="#ec8a1c"/>
<circle cx="52.80" cy="477.20" r="1.05" fill="#ec8a1c"/>
<circle cx="52.20" cy="479.20" r="1.05" fill="#ec8a1c"/>
<circle cx="52.80" cy="481.20" r="0.95" fill="#ec8a1c"/>
<circle cx="52.20" cy="484.60" r="0.95" fill="#ec8a1c"/>
<circle cx="52.50" cy="434.50" r="1.2" fill="#ec8a1c"/>
<circle cx="52.50" cy="429.25" r="1.2" fill="#ec8a1c"/>
<line x1="52.50" y1="496.30" x2="52.50" y2="499.00" stroke="#231f20" stroke-width="0.8" />
<rect x="80.50" y="459.25" width="19.00" height="20.25" fill="#a8d2f2" />
<line x1="80.50" y1="469.50" x2="99.50" y2="469.50" stroke="#2d9ee0" stroke-width="1.2" />
<line x1="90.00" y1="437.00" x2="90.00" y2="488.00" stroke="#2d9ee0" stroke-width="1.0" />
<circle cx="89.70" cy="437.00" r="0.95" fill="#2d9ee0"/>
<circle cx="90.30" cy="440.40" r="0.95" fill="#2d9ee0"/>
<circle cx="89.70" cy="443.80" r="0.95" fill="#2d9ee0"/>
<circle cx="90.30" cy="447.20" r="0.95" fill="#2d9ee0"/>
<circle cx="89.70" cy="450.60" r="0.95" fill="#2d9ee0"/>
<circle cx="90.30" cy="454.00" r="0.95" fill="#2d9ee0"/>
<circle cx="89.70" cy="457.40" r="0.95" fill="#2d9ee0"/>
<circle cx="90.30" cy="460.80" r="1.05" fill="#2d9ee0"/>
<circle cx="89.70" cy="462.80" r="1.05" fill="#2d9ee0"/>
<circle cx="90.30" cy="464.80" r="1.05" fill="#2d9ee0"/>
<circle cx="89.70" cy="466.80" r="1.05" fill="#2d9ee0"/>
<circle cx="90.30" cy="468.80" r="1.05" fill="#2d9ee0"/>
<circle cx="89.70" cy="470.80" r="1.05" fill="#2d9ee0"/>
<circle cx="90.30" cy="472.80" r="1.05" fill="#2d9ee0"/>
<circle cx="89.70" cy="474.80" r="1.05" fill="#2d9ee0"/>
<circle cx="90.30" cy="476.80" r="1.05" fill="#2d9ee0"/>
<circle cx="89.70" cy="478.80" r="1.05" fill="#2d9ee0"/>
<circle cx="90.30" cy="480.80" r="0.95" fill="#2d9ee0"/>
<circle cx="89.70" cy="484.20" r="0.95" fill="#2d9ee0"/>
<circle cx="90.30" cy="487.60" r="0.95" fill="#2d9ee0"/>
<line x1="90.00" y1="496.30" x2="90.00" y2="499.00" stroke="#231f20" stroke-width="0.8" />
<rect x="137.25" y="484.30" width="19.00" height="2.90" fill="#f8c891" />
<line x1="137.25" y1="486.00" x2="156.25" y2="486.00" stroke="#ec8a1c" stroke-width="1.2" />
<line x1="146.75" y1="467.50" x2="146.75" y2="490.00" stroke="#ec8a1c" stroke-width="1.0" />
<circle cx="146.45" cy="467.50" r="0.95" fill="#ec8a1c"/>
<circle cx="147.05" cy="470.90" r="0.95" fill="#ec8a1c"/>
<circle cx="146.45" cy="474.30" r="0.95" fill="#ec8a1c"/>
<circle cx="147.05" cy="477.70" r="0.95" fill="#ec8a1c"/>
<circle cx="146.45" cy="481.10" r="0.95" fill="#ec8a1c"/>
<circle cx="147.05" cy="484.50" r="1.05" fill="#ec8a1c"/>
<circle cx="146.45" cy="486.50" r="1.05" fill="#ec8a1c"/>
<circle cx="147.05" cy="488.50" r="0.95" fill="#ec8a1c"/>
<line x1="146.75" y1="496.30" x2="146.75" y2="499.00" stroke="#231f20" stroke-width="0.8" />
<rect x="175.00" y="483.00" width="19.00" height="3.80" fill="#a8d2f2" />
<line x1="175.00" y1="485.00" x2="194.00" y2="485.00" stroke="#2d9ee0" stroke-width="1.2" />
<line x1="184.50" y1="471.00" x2="184.50" y2="490.00" stroke="#2d9ee0" stroke-width="1.0" />
<circle cx="184.20" cy="471.00" r="0.95" fill="#2d9ee0"/>
<circle cx="184.80" cy="474.40" r="0.95" fill="#2d9ee0"/>
<circle cx="184.20" cy="477.80" r="0.95" fill="#2d9ee0"/>
<circle cx="184.80" cy="481.20" r="0.95" fill="#2d9ee0"/>
<circle cx="184.20" cy="484.60" r="1.05" fill="#2d9ee0"/>
<circle cx="184.80" cy="486.60" r="1.05" fill="#2d9ee0"/>
<circle cx="184.20" cy="488.60" r="0.95" fill="#2d9ee0"/>
<line x1="184.50" y1="496.30" x2="184.50" y2="499.00" stroke="#231f20" stroke-width="0.8" />
<rect x="231.75" y="469.25" width="19.00" height="17.75" fill="#f8c891" />
<line x1="231.75" y1="481.25" x2="250.75" y2="481.25" stroke="#ec8a1c" stroke-width="1.2" />
<line x1="241.25" y1="448.00" x2="241.25" y2="493.00" stroke="#ec8a1c" stroke-width="1.0" />
<circle cx="240.95" cy="448.00" r="0.95" fill="#ec8a1c"/>
<circle cx="241.55" cy="451.40" r="0.95" fill="#ec8a1c"/>
<circle cx="240.95" cy="454.80" r="0.95" fill="#ec8a1c"/>
<circle cx="241.55" cy="458.20" r="0.95" fill="#ec8a1c"/>
<circle cx="240.95" cy="461.60" r="0.95" fill="#ec8a1c"/>
<circle cx="241.55" cy="465.00" r="0.95" fill="#ec8a1c"/>
<circle cx="240.95" cy="468.40" r="0.95" fill="#ec8a1c"/>
<circle cx="241.55" cy="471.80" r="1.05" fill="#ec8a1c"/>
<circle cx="240.95" cy="473.80" r="1.05" fill="#ec8a1c"/>
<circle cx="241.55" cy="475.80" r="1.05" fill="#ec8a1c"/>
<circle cx="240.95" cy="477.80" r="1.05" fill="#ec8a1c"/>
<circle cx="241.55" cy="479.80" r="1.05" fill="#ec8a1c"/>
<circle cx="240.95" cy="481.80" r="1.05" fill="#ec8a1c"/>
<circle cx="241.55" cy="483.80" r="1.05" fill="#ec8a1c"/>
<circle cx="240.95" cy="485.80" r="1.05" fill="#ec8a1c"/>
<circle cx="241.55" cy="487.80" r="0.95" fill="#ec8a1c"/>
<circle cx="240.95" cy="491.20" r="0.95" fill="#ec8a1c"/>
<line x1="241.25" y1="496.30" x2="241.25" y2="499.00" stroke="#231f20" stroke-width="0.8" />
<rect x="269.25" y="467.50" width="19.00" height="20.00" fill="#a8d2f2" />
<line x1="269.25" y1="482.00" x2="288.25" y2="482.00" stroke="#2d9ee0" stroke-width="1.2" />
<line x1="278.75" y1="443.00" x2="278.75" y2="492.50" stroke="#2d9ee0" stroke-width="1.0" />
<circle cx="278.45" cy="443.00" r="0.95" fill="#2d9ee0"/>
<circle cx="279.05" cy="446.40" r="0.95" fill="#2d9ee0"/>
<circle cx="278.45" cy="449.80" r="0.95" fill="#2d9ee0"/>
<circle cx="279.05" cy="453.20" r="0.95" fill="#2d9ee0"/>
<circle cx="278.45" cy="456.60" r="0.95" fill="#2d9ee0"/>
<circle cx="279.05" cy="460.00" r="0.95" fill="#2d9ee0"/>
<circle cx="278.45" cy="463.40" r="0.95" fill="#2d9ee0"/>
<circle cx="279.05" cy="466.80" r="0.95" fill="#2d9ee0"/>
<circle cx="278.45" cy="470.20" r="1.05" fill="#2d9ee0"/>
<circle cx="279.05" cy="472.20" r="1.05" fill="#2d9ee0"/>
<circle cx="278.45" cy="474.20" r="1.05" fill="#2d9ee0"/>
<circle cx="279.05" cy="476.20" r="1.05" fill="#2d9ee0"/>
<circle cx="278.45" cy="478.20" r="1.05" fill="#2d9ee0"/>
<circle cx="279.05" cy="480.20" r="1.05" fill="#2d9ee0"/>
<circle cx="278.45" cy="482.20" r="1.05" fill="#2d9ee0"/>
<circle cx="279.05" cy="484.20" r="1.05" fill="#2d9ee0"/>
<circle cx="278.45" cy="486.20" r="1.05" fill="#2d9ee0"/>
<circle cx="279.05" cy="488.20" r="0.95" fill="#2d9ee0"/>
<circle cx="278.45" cy="491.60" r="0.95" fill="#2d9ee0"/>
<line x1="278.75" y1="496.30" x2="278.75" y2="499.00" stroke="#231f20" stroke-width="0.8" />
<rect x="326.00" y="470.00" width="19.00" height="8.00" fill="#f8c891" />
<line x1="326.00" y1="475.00" x2="345.00" y2="475.00" stroke="#ec8a1c" stroke-width="1.2" />
<line x1="335.50" y1="449.50" x2="335.50" y2="491.25" stroke="#ec8a1c" stroke-width="1.0" />
<circle cx="335.20" cy="449.50" r="0.95" fill="#ec8a1c"/>
<circle cx="335.80" cy="452.90" r="0.95" fill="#ec8a1c"/>
<circle cx="335.20" cy="456.30" r="0.95" fill="#ec8a1c"/>
<circle cx="335.80" cy="459.70" r="0.95" fill="#ec8a1c"/>
<circle cx="335.20" cy="463.10" r="0.95" fill="#ec8a1c"/>
<circle cx="335.80" cy="466.50" r="0.95" fill="#ec8a1c"/>
<circle cx="335.20" cy="469.90" r="0.95" fill="#ec8a1c"/>
<circle cx="335.80" cy="473.30" r="1.05" fill="#ec8a1c"/>
<circle cx="335.20" cy="475.30" r="1.05" fill="#ec8a1c"/>
<circle cx="335.80" cy="477.30" r="1.05" fill="#ec8a1c"/>
<circle cx="335.20" cy="479.30" r="0.95" fill="#ec8a1c"/>
<circle cx="335.80" cy="482.70" r="0.95" fill="#ec8a1c"/>
<circle cx="335.20" cy="486.10" r="0.95" fill="#ec8a1c"/>
<circle cx="335.80" cy="489.50" r="0.95" fill="#ec8a1c"/>
<circle cx="335.50" cy="417.50" r="1.2" fill="#ec8a1c"/>
<line x1="335.50" y1="496.30" x2="335.50" y2="499.00" stroke="#231f20" stroke-width="0.8" />
<rect x="363.75" y="465.75" width="19.00" height="13.75" fill="#a8d2f2" />
<line x1="363.75" y1="472.50" x2="382.75" y2="472.50" stroke="#2d9ee0" stroke-width="1.2" />
<line x1="373.25" y1="457.50" x2="373.25" y2="490.00" stroke="#2d9ee0" stroke-width="1.0" />
<circle cx="372.95" cy="457.50" r="0.95" fill="#2d9ee0"/>
<circle cx="373.55" cy="460.90" r="0.95" fill="#2d9ee0"/>
<circle cx="372.95" cy="464.30" r="0.95" fill="#2d9ee0"/>
<circle cx="373.55" cy="467.70" r="1.05" fill="#2d9ee0"/>
<circle cx="372.95" cy="469.70" r="1.05" fill="#2d9ee0"/>
<circle cx="373.55" cy="471.70" r="1.05" fill="#2d9ee0"/>
<circle cx="372.95" cy="473.70" r="1.05" fill="#2d9ee0"/>
<circle cx="373.55" cy="475.70" r="1.05" fill="#2d9ee0"/>
<circle cx="372.95" cy="477.70" r="1.05" fill="#2d9ee0"/>
<circle cx="373.55" cy="479.70" r="0.95" fill="#2d9ee0"/>
<circle cx="372.95" cy="483.10" r="0.95" fill="#2d9ee0"/>
<circle cx="373.55" cy="486.50" r="0.95" fill="#2d9ee0"/>
<circle cx="372.95" cy="489.90" r="0.95" fill="#2d9ee0"/>
<circle cx="373.25" cy="442.50" r="1.2" fill="#2d9ee0"/>
<line x1="373.25" y1="496.30" x2="373.25" y2="499.00" stroke="#231f20" stroke-width="0.8" />
<text x="52.50" y="509.11" font-size="6.6" text-anchor="middle" fill="#3a3a3a">Diagnosis</text>
<text x="90.00" y="509.11" font-size="6.6" text-anchor="middle" fill="#3a3a3a">Relapse</text>
<text x="146.75" y="509.11" font-size="6.6" text-anchor="middle" fill="#3a3a3a">Diagnosis</text>
<text x="184.50" y="509.11" font-size="6.6" text-anchor="middle" fill="#3a3a3a">Relapse</text>
<text x="241.25" y="509.11" font-size="6.6" text-anchor="middle" fill="#3a3a3a">Diagnosis</text>
<text x="278.75" y="509.11" font-size="6.6" text-anchor="middle" fill="#3a3a3a">Relapse</text>
<text x="335.50" y="509.11" font-size="6.6" text-anchor="middle" fill="#3a3a3a">Diagnosis</text>
<text x="373.25" y="509.11" font-size="6.6" text-anchor="middle" fill="#3a3a3a">Relapse</text>
<defs><linearGradient id="gXa" x1="0" x2="1" y1="0" y2="0"><stop offset="0" stop-color="#dcdcdc" stop-opacity="0.6"/><stop offset="1" stop-color="#c4c4c4"/></linearGradient></defs>
<text x="0.00" y="531.35" font-size="11" fill="#000" font-weight="bold">E</text>
<rect x="31.50" y="541.60" width="14.95" height="118.90" fill="#e5e6eb" />
<rect x="45.95" y="541.60" width="15.30" height="118.90" fill="#f7f7fa" />
<rect x="60.75" y="541.60" width="13.50" height="118.90" fill="#e5e6eb" />
<rect x="73.75" y="541.60" width="12.70" height="118.90" fill="#f7f7fa" />
<rect x="85.95" y="541.60" width="12.50" height="118.90" fill="#e5e6eb" />
<rect x="97.95" y="541.60" width="11.80" height="118.90" fill="#f7f7fa" />
<rect x="109.25" y="541.60" width="10.80" height="118.90" fill="#e5e6eb" />
<rect x="119.55" y="541.60" width="9.40" height="118.90" fill="#f7f7fa" />
<rect x="128.45" y="541.60" width="10.60" height="118.90" fill="#e5e6eb" />
<rect x="138.55" y="541.60" width="8.90" height="118.90" fill="#f7f7fa" />
<rect x="146.95" y="541.60" width="9.80" height="118.90" fill="#e5e6eb" />
<rect x="156.25" y="541.60" width="9.20" height="118.90" fill="#f7f7fa" />
<rect x="164.95" y="541.60" width="7.80" height="118.90" fill="#e5e6eb" />
<rect x="172.25" y="541.60" width="7.50" height="118.90" fill="#f7f7fa" />
<rect x="179.25" y="541.60" width="7.00" height="118.90" fill="#e5e6eb" />
<rect x="185.75" y="541.60" width="6.50" height="118.90" fill="#f7f7fa" />
<rect x="191.75" y="541.60" width="5.50" height="118.90" fill="#e5e6eb" />
<rect x="196.75" y="541.60" width="5.20" height="118.90" fill="#f7f7fa" />
<rect x="201.45" y="541.60" width="4.80" height="118.90" fill="#e5e6eb" />
<rect x="205.75" y="541.60" width="4.30" height="118.90" fill="#f7f7fa" />
<rect x="209.55" y="541.60" width="4.00" height="118.90" fill="#e5e6eb" />
<rect x="213.05" y="541.60" width="3.10" height="118.90" fill="#f7f7fa" />
<rect x="215.65" y="541.60" width="10.80" height="118.90" fill="#e5e6eb" />
<path d="M215.9,602 L215.9,600.5 C219,598 223,588 226.2,576.5 L226.2,616 C222,615 219,612 215.9,607 Z" fill="url(#gXa)"/>
<rect x="37.50" y="594.50" width="1.20" height="7.50" fill="#c8102e" />
<rect x="38.30" y="569.00" width="1.20" height="33.00" fill="#c8102e" />
<rect x="39.10" y="568.00" width="1.90" height="34.00" fill="#c8102e" />
<rect x="40.60" y="569.00" width="2.60" height="33.00" fill="#c8102e" />
<rect x="42.80" y="568.00" width="1.90" height="34.00" fill="#c8102e" />
<rect x="44.30" y="569.00" width="1.90" height="33.00" fill="#c8102e" />
<rect x="45.80" y="592.30" width="1.90" height="9.70" fill="#e8998e" />
<rect x="47.30" y="594.50" width="4.10" height="7.50" fill="#e8998e" />
<rect x="51.00" y="594.50" width="1.20" height="7.50" fill="#c8102e" />
<rect x="51.80" y="592.30" width="2.90" height="9.70" fill="#c8102e" />
<rect x="54.30" y="594.50" width="1.60" height="7.50" fill="#c8102e" />
<rect x="55.50" y="589.30" width="2.70" height="12.70" fill="#c8102e" />
<rect x="57.80" y="594.50" width="3.40" height="7.50" fill="#c8102e" />
<rect x="60.80" y="569.80" width="6.70" height="32.20" fill="#e8998e" />
<rect x="67.10" y="572.00" width="7.30" height="30.00" fill="#c8102e" />
<rect x="76.30" y="596.00" width="2.60" height="6.00" fill="#c8102e" />
<rect x="78.50" y="593.00" width="1.90" height="9.00" fill="#c8102e" />
<rect x="80.00" y="596.00" width="6.40" height="6.00" fill="#c8102e" />
<rect x="86.00" y="569.00" width="2.70" height="33.00" fill="#e8998e" />
<rect x="88.30" y="565.50" width="1.10" height="36.50" fill="#c8102e" />
<rect x="89.00" y="564.00" width="1.90" height="38.00" fill="#c8102e" />
<rect x="90.50" y="565.50" width="1.20" height="36.50" fill="#c8102e" />
<rect x="91.30" y="570.50" width="7.10" height="31.50" fill="#c8102e" />
<rect x="98.00" y="587.80" width="4.20" height="14.20" fill="#e8998e" />
<rect x="101.80" y="590.80" width="3.40" height="11.20" fill="#c8102e" />
<rect x="104.80" y="588.50" width="1.90" height="13.50" fill="#c8102e" />
<rect x="106.30" y="590.80" width="1.10" height="11.20" fill="#c8102e" />
<rect x="107.00" y="593.00" width="2.70" height="9.00" fill="#c8102e" />
<rect x="109.30" y="587.80" width="1.90" height="14.20" fill="#e8998e" />
<rect x="110.80" y="583.30" width="1.90" height="18.70" fill="#e8998e" />
<rect x="113.00" y="587.80" width="5.40" height="14.20" fill="#c8102e" />
<rect x="118.00" y="570.50" width="1.70" height="31.50" fill="#c8102e" />
<rect x="122.00" y="595.30" width="5.20" height="6.70" fill="#c8102e" />
<rect x="126.80" y="588.50" width="2.10" height="13.50" fill="#c8102e" />
<rect x="128.50" y="568.30" width="3.40" height="33.70" fill="#e8998e" />
<rect x="131.50" y="569.00" width="1.90" height="33.00" fill="#c8102e" />
<rect x="133.00" y="566.50" width="1.20" height="35.50" fill="#c8102e" />
<rect x="133.80" y="569.00" width="4.90" height="33.00" fill="#c8102e" />
<rect x="140.50" y="600.00" width="1.20" height="2.00" fill="#c8102e" />
<rect x="141.30" y="598.30" width="1.90" height="3.70" fill="#c8102e" />
<rect x="142.80" y="600.00" width="4.10" height="2.00" fill="#c8102e" />
<rect x="147.00" y="571.30" width="2.90" height="30.70" fill="#e8998e" />
<rect x="149.50" y="570.50" width="1.70" height="31.50" fill="#c8102e" />
<rect x="150.80" y="566.00" width="1.90" height="36.00" fill="#c8102e" />
<rect x="152.30" y="570.50" width="1.90" height="31.50" fill="#c8102e" />
<rect x="153.80" y="564.00" width="1.90" height="38.00" fill="#c8102e" />
<rect x="155.30" y="570.50" width="1.40" height="31.50" fill="#c8102e" />
<rect x="157.80" y="600.00" width="1.10" height="2.00" fill="#c8102e" />
<rect x="162.30" y="598.30" width="3.40" height="3.70" fill="#c8102e" />
<rect x="172.50" y="555.00" width="1.40" height="47.00" fill="#c8102e" />
<rect x="173.50" y="597.50" width="4.90" height="4.50" fill="#c8102e" />
<rect x="178.00" y="591.00" width="1.90" height="11.00" fill="#c8102e" />
<rect x="179.50" y="562.20" width="6.40" height="39.80" fill="#e8998e" />
<rect x="179.50" y="564.00" width="6.40" height="38.00" fill="#c8102e" />
<rect x="186.90" y="597.70" width="4.70" height="4.30" fill="#c8102e" />
<rect x="193.30" y="585.60" width="3.30" height="16.40" fill="#c8102e" />
<rect x="196.20" y="599.20" width="5.40" height="2.80" fill="#c8102e" />
<rect x="201.20" y="557.10" width="1.80" height="44.90" fill="#e8998e" />
<rect x="202.60" y="563.00" width="4.00" height="39.00" fill="#c8102e" />
<rect x="206.20" y="595.00" width="4.00" height="7.00" fill="#c8102e" />
<rect x="209.80" y="585.00" width="3.90" height="17.00" fill="#c8102e" />
<rect x="213.30" y="590.00" width="1.80" height="12.00" fill="#c8102e" />
<rect x="32.30" y="602.00" width="1.90" height="8.00" fill="#9db2d2" />
<rect x="33.80" y="602.00" width="2.40" height="12.00" fill="#9db2d2" />
<rect x="35.80" y="602.00" width="1.40" height="9.00" fill="#9db2d2" />
<rect x="36.80" y="602.00" width="1.90" height="6.70" fill="#1c4f8a" />
<rect x="42.00" y="602.00" width="1.20" height="3.00" fill="#1c4f8a" />
<rect x="44.30" y="602.00" width="1.90" height="3.50" fill="#1c4f8a" />
<rect x="47.80" y="602.00" width="2.90" height="3.00" fill="#9db2d2" />
<rect x="50.80" y="602.00" width="1.00" height="48.70" fill="#a4a8b4" />
<rect x="52.00" y="602.00" width="0.77" height="1.65" fill="#1c4f8a" />
<rect x="53.63" y="602.00" width="0.90" height="1.94" fill="#1c4f8a" />
<rect x="56.84" y="602.00" width="0.91" height="1.79" fill="#1c4f8a" />
<rect x="58.17" y="602.00" width="1.28" height="3.15" fill="#1c4f8a" />
<rect x="60.09" y="602.00" width="0.91" height="3.15" fill="#1c4f8a" />
<rect x="66.52" y="602.00" width="1.06" height="1.67" fill="#1c4f8a" />
<rect x="67.97" y="602.00" width="0.95" height="1.07" fill="#1c4f8a" />
<rect x="69.76" y="602.00" width="1.16" height="1.92" fill="#1c4f8a" />
<rect x="73.13" y="602.00" width="0.37" height="0.97" fill="#1c4f8a" />
<rect x="73.50" y="602.00" width="2.20" height="10.00" fill="#9db2d2" />
<rect x="75.30" y="602.00" width="1.90" height="12.00" fill="#9db2d2" />
<rect x="76.80" y="602.00" width="1.00" height="24.50" fill="#9db2d2" />
<rect x="77.80" y="602.00" width="2.60" height="7.00" fill="#1c4f8a" />
<rect x="80.20" y="602.00" width="1.13" height="2.70" fill="#1c4f8a" />
<rect x="83.85" y="602.00" width="1.40" height="2.55" fill="#1c4f8a" />
<rect x="85.59" y="602.00" width="0.41" height="2.33" fill="#1c4f8a" />
<rect x="90.11" y="602.00" width="1.21" height="1.79" fill="#1c4f8a" />
<rect x="91.60" y="602.00" width="1.35" height="1.96" fill="#1c4f8a" />
<rect x="93.27" y="602.00" width="1.11" height="2.39" fill="#1c4f8a" />
<rect x="94.96" y="602.00" width="1.29" height="2.25" fill="#1c4f8a" />
<rect x="101.80" y="602.00" width="1.90" height="5.00" fill="#1c4f8a" />
<rect x="103.30" y="602.00" width="1.90" height="8.00" fill="#1c4f8a" />
<rect x="104.80" y="602.00" width="1.90" height="12.00" fill="#1c4f8a" />
<rect x="106.30" y="602.00" width="1.10" height="16.00" fill="#1c4f8a" />
<rect x="107.00" y="602.00" width="1.90" height="20.00" fill="#1c4f8a" />
<rect x="108.50" y="602.00" width="1.20" height="12.00" fill="#1c4f8a" />
<rect x="110.00" y="602.00" width="1.11" height="1.46" fill="#1c4f8a" />
<rect x="113.28" y="602.00" width="1.02" height="3.11" fill="#1c4f8a" />
<rect x="114.95" y="602.00" width="0.76" height="2.98" fill="#1c4f8a" />
<rect x="116.95" y="602.00" width="1.55" height="1.64" fill="#1c4f8a" />
<rect x="118.30" y="602.00" width="1.40" height="8.00" fill="#9db2d2" />
<rect x="119.30" y="602.00" width="1.40" height="17.00" fill="#9db2d2" />
<rect x="120.30" y="602.00" width="1.40" height="10.00" fill="#9db2d2" />
<rect x="121.30" y="602.00" width="1.40" height="5.00" fill="#9db2d2" />
<rect x="122.30" y="602.00" width="2.90" height="3.70" fill="#1c4f8a" />
<rect x="124.80" y="602.00" width="1.90" height="9.70" fill="#1c4f8a" />
<rect x="126.30" y="602.00" width="1.90" height="6.00" fill="#1c4f8a" />
<rect x="128.70" y="602.00" width="1.00" height="2.50" fill="#1c4f8a" />
<rect x="130.11" y="602.00" width="1.34" height="2.61" fill="#1c4f8a" />
<rect x="132.05" y="602.00" width="0.61" height="1.86" fill="#1c4f8a" />
<rect x="133.53" y="602.00" width="0.72" height="1.57" fill="#1c4f8a" />
<rect x="135.15" y="602.00" width="0.99" height="1.52" fill="#1c4f8a" />
<rect x="139.80" y="602.00" width="1.90" height="10.50" fill="#1c4f8a" />
<rect x="143.65" y="602.00" width="1.34" height="1.36" fill="#1c4f8a" />
<rect x="145.80" y="602.00" width="1.14" height="1.22" fill="#1c4f8a" />
<rect x="149.50" y="602.00" width="2.20" height="7.00" fill="#1c4f8a" />
<rect x="151.30" y="602.00" width="1.90" height="14.20" fill="#1c4f8a" />
<rect x="152.80" y="602.00" width="2.40" height="9.00" fill="#1c4f8a" />
<rect x="155.00" y="602.00" width="1.19" height="1.62" fill="#1c4f8a" />
<rect x="158.17" y="602.00" width="1.58" height="2.69" fill="#1c4f8a" />
<rect x="160.38" y="602.00" width="1.13" height="1.06" fill="#1c4f8a" />
<rect x="164.17" y="602.00" width="0.83" height="2.29" fill="#1c4f8a" />
<rect x="165.30" y="602.00" width="3.90" height="33.70" fill="#1c4f8a" />
<rect x="168.80" y="602.00" width="1.90" height="30.70" fill="#1c4f8a" />
<rect x="170.30" y="602.00" width="2.10" height="33.70" fill="#1c4f8a" />
<rect x="172.00" y="602.00" width="6.40" height="7.00" fill="#1c4f8a" />
<rect x="178.10" y="602.00" width="1.20" height="58.00" fill="#9db2d2" />
<rect x="186.90" y="602.00" width="1.30" height="20.00" fill="#1c4f8a" />
<rect x="187.80" y="602.00" width="1.20" height="37.70" fill="#1c4f8a" />
<rect x="188.60" y="602.00" width="3.00" height="20.00" fill="#1c4f8a" />
<rect x="191.90" y="602.00" width="3.30" height="4.30" fill="#1c4f8a" />
<rect x="195.50" y="602.00" width="1.10" height="10.00" fill="#1c4f8a" />
<rect x="196.20" y="602.00" width="6.80" height="4.30" fill="#1c4f8a" />
<rect x="206.20" y="602.00" width="2.50" height="8.50" fill="#1c4f8a" />
<rect x="209.80" y="602.00" width="1.80" height="30.00" fill="#1c4f8a" />
<rect x="213.30" y="602.00" width="2.50" height="14.00" fill="#1c4f8a" />
<line x1="29.65" y1="539.50" x2="29.65" y2="664.50" stroke="#231f20" stroke-width="1.1" />
<line x1="226.20" y1="539.50" x2="226.20" y2="664.50" stroke="#231f20" stroke-width="1.1" />
<line x1="26.05" y1="540.60" x2="29.65" y2="540.60" stroke="#231f20" stroke-width="0.9" />
<line x1="226.20" y1="540.60" x2="230.20" y2="540.60" stroke="#231f20" stroke-width="0.9" />
<line x1="26.05" y1="571.20" x2="29.65" y2="571.20" stroke="#231f20" stroke-width="0.9" />
<line x1="226.20" y1="571.20" x2="230.20" y2="571.20" stroke="#231f20" stroke-width="0.9" />
<line x1="26.05" y1="601.80" x2="29.65" y2="601.80" stroke="#231f20" stroke-width="0.9" />
<line x1="226.20" y1="601.80" x2="230.20" y2="601.80" stroke="#231f20" stroke-width="0.9" />
<line x1="26.05" y1="632.40" x2="29.65" y2="632.40" stroke="#231f20" stroke-width="0.9" />
<line x1="226.20" y1="632.40" x2="230.20" y2="632.40" stroke="#231f20" stroke-width="0.9" />
<line x1="26.05" y1="663.00" x2="29.65" y2="663.00" stroke="#231f20" stroke-width="0.9" />
<line x1="226.20" y1="663.00" x2="230.20" y2="663.00" stroke="#231f20" stroke-width="0.9" />
<text x="23.35" y="543.11" font-size="6.6" text-anchor="end" fill="#3a3a3a">25</text>
<text x="23.35" y="604.31" font-size="6.6" text-anchor="end" fill="#3a3a3a">0</text>
<text x="23.35" y="664.71" font-size="6.6" text-anchor="end" fill="#3a3a3a">25</text>
<text x="232.90" y="543.31" font-size="6.6" fill="#3a3a3a">100</text>
<text x="232.90" y="574.11" font-size="6.6" fill="#3a3a3a">50</text>
<text x="232.90" y="604.51" font-size="6.6" fill="#3a3a3a">0</text>
<text x="232.90" y="634.81" font-size="6.6" fill="#3a3a3a">50</text>
<text x="232.90" y="664.91" font-size="6.6" fill="#3a3a3a">100</text>
<text transform="translate(7.75,601.70) rotate(-90)" x="0" y="2.52" font-size="7.2" text-anchor="middle" fill="#3a3a3a" textLength="29" lengthAdjust="spacingAndGlyphs">#samples</text>
<text transform="translate(251.50,602.00) rotate(-90)" x="0" y="2.52" font-size="7.2" text-anchor="middle" fill="#3a3a3a" textLength="31" lengthAdjust="spacingAndGlyphs">Frequency</text>
<text x="54.00" y="543.33" font-size="5.8" text-anchor="middle" fill="#333">2</text>
<text x="80.50" y="543.33" font-size="5.8" text-anchor="middle" fill="#333">4</text>
<text x="104.40" y="543.33" font-size="5.8" text-anchor="middle" fill="#333">6</text>
<text x="124.60" y="543.33" font-size="5.8" text-anchor="middle" fill="#333">8</text>
<text x="142.60" y="543.33" font-size="5.8" text-anchor="middle" fill="#333">10</text>
<text x="160.20" y="543.33" font-size="5.8" text-anchor="middle" fill="#333">12</text>
<text x="174.60" y="543.33" font-size="5.8" text-anchor="middle" fill="#333">14</text>
<text x="188.00" y="543.33" font-size="5.8" text-anchor="middle" fill="#333">16</text>
<text x="199.40" y="543.33" font-size="5.8" text-anchor="middle" fill="#333">18</text>
<text x="207.20" y="543.33" font-size="5.8" text-anchor="middle" fill="#333">20</text>
<text x="215.30" y="543.33" font-size="5.8" text-anchor="middle" fill="#333">22</text>
<text x="36.10" y="664.43" font-size="5.8" text-anchor="middle" fill="#333">1</text>
<text x="67.30" y="664.43" font-size="5.8" text-anchor="middle" fill="#333">3</text>
<text x="93.10" y="664.43" font-size="5.8" text-anchor="middle" fill="#333">5</text>
<text x="114.30" y="664.43" font-size="5.8" text-anchor="middle" fill="#333">7</text>
<text x="133.60" y="664.43" font-size="5.8" text-anchor="middle" fill="#333">9</text>
<text x="151.50" y="664.43" font-size="5.8" text-anchor="middle" fill="#333">11</text>
<text x="167.80" y="664.43" font-size="5.8" text-anchor="middle" fill="#333">13</text>
<text x="181.60" y="664.43" font-size="5.8" text-anchor="middle" fill="#333">15</text>
<text x="193.80" y="664.43" font-size="5.8" text-anchor="middle" fill="#333">17</text>
<text x="202.90" y="664.43" font-size="5.8" text-anchor="middle" fill="#333">19</text>
<text x="211.40" y="664.43" font-size="5.8" text-anchor="middle" fill="#333">21</text>
<text x="221.60" y="664.43" font-size="5.8" text-anchor="middle" fill="#333">X</text>
<text x="268.30" y="530.85" font-size="11" fill="#000" font-weight="bold">F</text>
<rect x="294.60" y="541.60" width="15.00" height="118.90" fill="#e5e6eb" />
<rect x="309.10" y="541.60" width="15.35" height="118.90" fill="#f7f7fa" />
<rect x="323.96" y="541.60" width="13.55" height="118.90" fill="#e5e6eb" />
<rect x="337.00" y="541.60" width="12.74" height="118.90" fill="#f7f7fa" />
<rect x="349.25" y="541.60" width="12.54" height="118.90" fill="#e5e6eb" />
<rect x="361.29" y="541.60" width="11.84" height="118.90" fill="#f7f7fa" />
<rect x="372.63" y="541.60" width="10.84" height="118.90" fill="#e5e6eb" />
<rect x="382.97" y="541.60" width="9.43" height="118.90" fill="#f7f7fa" />
<rect x="391.90" y="541.60" width="10.64" height="118.90" fill="#e5e6eb" />
<rect x="402.04" y="541.60" width="8.93" height="118.90" fill="#f7f7fa" />
<rect x="410.47" y="541.60" width="9.83" height="118.90" fill="#e5e6eb" />
<rect x="419.80" y="541.60" width="9.23" height="118.90" fill="#f7f7fa" />
<rect x="428.53" y="541.60" width="7.83" height="118.90" fill="#e5e6eb" />
<rect x="435.86" y="541.60" width="7.53" height="118.90" fill="#f7f7fa" />
<rect x="442.88" y="541.60" width="7.02" height="118.90" fill="#e5e6eb" />
<rect x="449.41" y="541.60" width="6.52" height="118.90" fill="#f7f7fa" />
<rect x="455.43" y="541.60" width="5.52" height="118.90" fill="#e5e6eb" />
<rect x="460.45" y="541.60" width="5.22" height="118.90" fill="#f7f7fa" />
<rect x="465.16" y="541.60" width="4.82" height="118.90" fill="#e5e6eb" />
<rect x="469.48" y="541.60" width="4.31" height="118.90" fill="#f7f7fa" />
<rect x="473.29" y="541.60" width="4.01" height="118.90" fill="#e5e6eb" />
<rect x="476.80" y="541.60" width="3.11" height="118.90" fill="#f7f7fa" />
<rect x="479.41" y="541.60" width="11.04" height="118.90" fill="#e5e6eb" />
<path d="M479.5,601.5 L479.5,600 C483,597.5 487,590 490.2,580 L490.2,617.5 C486,616.5 483,613 479.5,607 Z" fill="url(#gXa)"/>
<rect x="294.30" y="599.30" width="2.60" height="2.20" fill="#e8998e" />
<rect x="301.00" y="570.80" width="1.90" height="30.70" fill="#c8102e" />
<rect x="302.50" y="563.50" width="1.90" height="38.00" fill="#c8102e" />
<rect x="304.00" y="570.80" width="2.70" height="30.70" fill="#c8102e" />
<rect x="306.30" y="566.50" width="1.90" height="35.00" fill="#c8102e" />
<rect x="307.80" y="570.80" width="1.90" height="30.70" fill="#c8102e" />
<rect x="309.30" y="594.80" width="5.60" height="6.70" fill="#e8998e" />
<rect x="314.50" y="597.00" width="1.90" height="4.50" fill="#c8102e" />
<rect x="316.00" y="594.80" width="1.90" height="6.70" fill="#c8102e" />
<rect x="317.50" y="597.00" width="2.70" height="4.50" fill="#c8102e" />
<rect x="319.80" y="592.50" width="1.90" height="9.00" fill="#c8102e" />
<rect x="321.30" y="597.00" width="3.40" height="4.50" fill="#c8102e" />
<rect x="324.30" y="573.00" width="5.60" height="28.50" fill="#e8998e" />
<rect x="329.50" y="572.30" width="4.90" height="29.20" fill="#c8102e" />
<rect x="334.00" y="570.80" width="1.90" height="30.70" fill="#c8102e" />
<rect x="335.50" y="572.30" width="3.40" height="29.20" fill="#c8102e" />
<rect x="340.00" y="599.30" width="4.20" height="2.20" fill="#c8102e" />
<rect x="343.80" y="597.00" width="1.40" height="4.50" fill="#c8102e" />
<rect x="344.80" y="599.30" width="5.40" height="2.20" fill="#c8102e" />
<rect x="349.80" y="572.30" width="3.40" height="29.20" fill="#e8998e" />
<rect x="352.80" y="572.30" width="1.40" height="29.20" fill="#c8102e" />
<rect x="353.80" y="574.50" width="6.90" height="27.00" fill="#c8102e" />
<rect x="360.30" y="572.30" width="1.90" height="29.20" fill="#c8102e" />
<rect x="361.80" y="588.80" width="3.40" height="12.70" fill="#e8998e" />
<rect x="364.80" y="590.30" width="5.60" height="11.20" fill="#c8102e" />
<rect x="370.00" y="592.50" width="2.70" height="9.00" fill="#c8102e" />
<rect x="372.30" y="590.30" width="2.40" height="11.20" fill="#e8998e" />
<rect x="374.30" y="586.50" width="2.10" height="15.00" fill="#e8998e" />
<rect x="376.00" y="587.30" width="6.00" height="14.20" fill="#c8102e" />
<rect x="381.60" y="577.50" width="1.60" height="24.00" fill="#c8102e" />
<rect x="382.80" y="599.50" width="3.40" height="2.00" fill="#c8102e" />
<rect x="385.80" y="592.50" width="3.40" height="9.00" fill="#c8102e" />
<rect x="388.80" y="590.30" width="1.90" height="11.20" fill="#c8102e" />
<rect x="390.30" y="587.30" width="2.20" height="14.20" fill="#c8102e" />
<rect x="392.10" y="569.30" width="3.80" height="32.20" fill="#e8998e" />
<rect x="395.50" y="569.50" width="5.70" height="32.00" fill="#c8102e" />
<rect x="400.80" y="565.50" width="1.60" height="36.00" fill="#c8102e" />
<rect x="403.80" y="598.50" width="6.40" height="3.00" fill="#c8102e" />
<rect x="409.80" y="577.50" width="4.10" height="24.00" fill="#e8998e" />
<rect x="413.50" y="570.80" width="3.70" height="30.70" fill="#c8102e" />
<rect x="416.80" y="565.50" width="1.90" height="36.00" fill="#c8102e" />
<rect x="418.30" y="570.80" width="1.60" height="30.70" fill="#c8102e" />
<rect x="421.00" y="599.50" width="1.90" height="2.00" fill="#c8102e" />
<rect x="425.30" y="599.50" width="1.40" height="2.00" fill="#c8102e" />
<rect x="435.80" y="554.90" width="2.00" height="46.60" fill="#e8998e" />
<rect x="437.40" y="597.70" width="3.40" height="3.80" fill="#c8102e" />
<rect x="440.40" y="589.50" width="2.80" height="12.00" fill="#e8998e" />
<rect x="442.80" y="559.90" width="7.10" height="41.60" fill="#e8998e" />
<rect x="442.80" y="561.50" width="7.10" height="40.00" fill="#c8102e" />
<rect x="449.50" y="598.50" width="5.30" height="3.00" fill="#c8102e" />
<rect x="455.20" y="592.50" width="3.50" height="9.00" fill="#c8102e" />
<rect x="458.30" y="589.50" width="2.30" height="12.00" fill="#c8102e" />
<rect x="461.00" y="595.20" width="3.70" height="6.30" fill="#c8102e" />
<rect x="465.10" y="555.50" width="2.10" height="46.00" fill="#e8998e" />
<rect x="466.80" y="565.50" width="2.80" height="36.00" fill="#c8102e" />
<rect x="470.10" y="594.50" width="2.80" height="7.00" fill="#c8102e" />
<rect x="473.40" y="584.50" width="3.70" height="17.00" fill="#c8102e" />
<rect x="476.70" y="587.00" width="2.00" height="14.50" fill="#c8102e" />
<rect x="295.00" y="601.50" width="2.20" height="6.00" fill="#9db2d2" />
<rect x="296.80" y="601.50" width="1.90" height="12.00" fill="#9db2d2" />
<rect x="298.30" y="601.50" width="2.40" height="7.00" fill="#9db2d2" />
<rect x="300.50" y="601.50" width="1.50" height="4.81" fill="#1c4f8a" />
<rect x="302.41" y="601.50" width="0.86" height="3.69" fill="#1c4f8a" />
<rect x="303.70" y="601.50" width="1.10" height="4.79" fill="#1c4f8a" />
<rect x="305.69" y="601.50" width="1.22" height="4.68" fill="#1c4f8a" />
<rect x="307.47" y="601.50" width="1.03" height="2.22" fill="#1c4f8a" />
<rect x="308.91" y="601.50" width="0.09" height="1.82" fill="#1c4f8a" />
<rect x="314.10" y="601.50" width="1.10" height="48.70" fill="#a4a8b4" />
<rect x="315.50" y="601.50" width="1.54" height="4.04" fill="#1c4f8a" />
<rect x="319.64" y="601.50" width="1.23" height="4.13" fill="#1c4f8a" />
<rect x="323.14" y="601.50" width="0.56" height="2.47" fill="#1c4f8a" />
<rect x="323.50" y="601.50" width="2.70" height="10.50" fill="#1c4f8a" />
<rect x="330.00" y="601.50" width="1.47" height="1.32" fill="#1c4f8a" />
<rect x="332.24" y="601.50" width="1.55" height="2.54" fill="#1c4f8a" />
<rect x="334.11" y="601.50" width="1.04" height="1.55" fill="#1c4f8a" />
<rect x="336.03" y="601.50" width="1.26" height="2.27" fill="#1c4f8a" />
<rect x="337.96" y="601.50" width="0.04" height="2.06" fill="#1c4f8a" />
<rect x="337.80" y="601.50" width="2.90" height="12.00" fill="#9db2d2" />
<rect x="340.80" y="601.50" width="1.90" height="3.00" fill="#1c4f8a" />
<rect x="342.30" y="601.50" width="2.40" height="6.70" fill="#1c4f8a" />
<rect x="344.50" y="601.50" width="1.08" height="2.93" fill="#1c4f8a" />
<rect x="347.74" y="601.50" width="0.93" height="3.00" fill="#1c4f8a" />
<rect x="349.23" y="601.50" width="0.77" height="1.79" fill="#1c4f8a" />
<rect x="353.64" y="601.50" width="1.27" height="2.67" fill="#1c4f8a" />
<rect x="355.60" y="601.50" width="1.39" height="2.19" fill="#1c4f8a" />
<rect x="357.36" y="601.50" width="0.72" height="1.79" fill="#1c4f8a" />
<rect x="358.68" y="601.50" width="0.66" height="2.02" fill="#1c4f8a" />
<rect x="360.14" y="601.50" width="1.06" height="2.00" fill="#1c4f8a" />
<rect x="361.90" y="601.50" width="0.10" height="1.02" fill="#1c4f8a" />
<rect x="364.80" y="601.50" width="2.40" height="5.00" fill="#1c4f8a" />
<rect x="366.80" y="601.50" width="2.40" height="9.00" fill="#1c4f8a" />
<rect x="368.80" y="601.50" width="2.40" height="13.00" fill="#1c4f8a" />
<rect x="370.80" y="601.50" width="2.60" height="17.00" fill="#1c4f8a" />
<rect x="375.20" y="601.50" width="0.64" height="1.79" fill="#1c4f8a" />
<rect x="376.18" y="601.50" width="1.45" height="2.15" fill="#1c4f8a" />
<rect x="377.94" y="601.50" width="0.81" height="1.64" fill="#1c4f8a" />
<rect x="379.58" y="601.50" width="1.22" height="1.58" fill="#1c4f8a" />
<rect x="381.03" y="601.50" width="0.97" height="1.34" fill="#1c4f8a" />
<rect x="382.00" y="601.50" width="1.70" height="12.00" fill="#9db2d2" />
<rect x="383.30" y="601.50" width="1.90" height="20.00" fill="#9db2d2" />
<rect x="384.80" y="601.50" width="1.40" height="10.00" fill="#9db2d2" />
<rect x="385.80" y="601.50" width="7.10" height="8.00" fill="#1c4f8a" />
<rect x="394.80" y="601.50" width="3.40" height="3.70" fill="#1c4f8a" />
<rect x="403.00" y="601.50" width="1.90" height="10.50" fill="#1c4f8a" />
<rect x="404.70" y="601.50" width="1.28" height="1.56" fill="#1c4f8a" />
<rect x="407.61" y="601.50" width="1.50" height="1.42" fill="#1c4f8a" />
<rect x="413.50" y="601.50" width="5.70" height="9.70" fill="#1c4f8a" />
<rect x="418.80" y="601.50" width="2.60" height="14.20" fill="#9db2d2" />
<rect x="421.20" y="601.50" width="1.15" height="3.51" fill="#1c4f8a" />
<rect x="422.74" y="601.50" width="0.94" height="2.91" fill="#1c4f8a" />
<rect x="424.28" y="601.50" width="0.65" height="2.80" fill="#1c4f8a" />
<rect x="425.31" y="601.50" width="0.71" height="2.46" fill="#1c4f8a" />
<rect x="426.45" y="601.50" width="0.70" height="4.00" fill="#1c4f8a" />
<rect x="427.96" y="601.50" width="0.74" height="1.72" fill="#1c4f8a" />
<rect x="428.50" y="601.50" width="7.30" height="32.00" fill="#1c4f8a" />
<rect x="436.30" y="601.50" width="2.40" height="9.40" fill="#1c4f8a" />
<rect x="438.30" y="601.50" width="2.50" height="13.00" fill="#1c4f8a" />
<rect x="441.20" y="601.50" width="2.00" height="55.50" fill="#1c4f8a" />
<rect x="450.30" y="601.50" width="2.40" height="29.00" fill="#1c4f8a" />
<rect x="452.30" y="601.50" width="2.50" height="20.00" fill="#1c4f8a" />
<rect x="455.40" y="601.50" width="1.29" height="2.47" fill="#1c4f8a" />
<rect x="457.44" y="601.50" width="1.23" height="3.26" fill="#1c4f8a" />
<rect x="459.24" y="601.50" width="0.74" height="1.60" fill="#1c4f8a" />
<rect x="460.80" y="601.50" width="2.90" height="4.50" fill="#1c4f8a" />
<rect x="466.80" y="601.50" width="2.80" height="3.00" fill="#1c4f8a" />
<rect x="470.80" y="601.50" width="2.10" height="9.40" fill="#1c4f8a" />
<rect x="473.40" y="601.50" width="2.00" height="19.30" fill="#1c4f8a" />
<rect x="476.70" y="601.50" width="2.80" height="14.30" fill="#1c4f8a" />
<line x1="293.25" y1="539.50" x2="293.25" y2="664.50" stroke="#231f20" stroke-width="1.1" />
<line x1="490.20" y1="539.50" x2="490.20" y2="664.50" stroke="#231f20" stroke-width="1.1" />
<line x1="289.65" y1="540.60" x2="293.25" y2="540.60" stroke="#231f20" stroke-width="0.9" />
<line x1="490.20" y1="540.60" x2="494.20" y2="540.60" stroke="#231f20" stroke-width="0.9" />
<line x1="289.65" y1="571.20" x2="293.25" y2="571.20" stroke="#231f20" stroke-width="0.9" />
<line x1="490.20" y1="571.20" x2="494.20" y2="571.20" stroke="#231f20" stroke-width="0.9" />
<line x1="289.65" y1="601.80" x2="293.25" y2="601.80" stroke="#231f20" stroke-width="0.9" />
<line x1="490.20" y1="601.80" x2="494.20" y2="601.80" stroke="#231f20" stroke-width="0.9" />
<line x1="289.65" y1="632.40" x2="293.25" y2="632.40" stroke="#231f20" stroke-width="0.9" />
<line x1="490.20" y1="632.40" x2="494.20" y2="632.40" stroke="#231f20" stroke-width="0.9" />
<line x1="289.65" y1="663.00" x2="293.25" y2="663.00" stroke="#231f20" stroke-width="0.9" />
<line x1="490.20" y1="663.00" x2="494.20" y2="663.00" stroke="#231f20" stroke-width="0.9" />
<text x="286.95" y="543.11" font-size="6.6" text-anchor="end" fill="#3a3a3a">25</text>
<text x="286.95" y="604.31" font-size="6.6" text-anchor="end" fill="#3a3a3a">0</text>
<text x="286.95" y="664.71" font-size="6.6" text-anchor="end" fill="#3a3a3a">25</text>
<text x="496.90" y="543.31" font-size="6.6" fill="#3a3a3a">100</text>
<text x="496.90" y="574.11" font-size="6.6" fill="#3a3a3a">50</text>
<text x="496.90" y="604.51" font-size="6.6" fill="#3a3a3a">0</text>
<text x="496.90" y="634.81" font-size="6.6" fill="#3a3a3a">50</text>
<text x="496.90" y="664.91" font-size="6.6" fill="#3a3a3a">100</text>
<text transform="translate(271.35,601.70) rotate(-90)" x="0" y="2.52" font-size="7.2" text-anchor="middle" fill="#3a3a3a" textLength="29" lengthAdjust="spacingAndGlyphs">#samples</text>
<text transform="translate(514.10,602.00) rotate(-90)" x="0" y="2.52" font-size="7.2" text-anchor="middle" fill="#3a3a3a" textLength="31" lengthAdjust="spacingAndGlyphs">Frequency</text>
<text x="317.00" y="543.33" font-size="5.8" text-anchor="middle" fill="#333">2</text>
<text x="344.00" y="543.33" font-size="5.8" text-anchor="middle" fill="#333">4</text>
<text x="367.60" y="543.33" font-size="5.8" text-anchor="middle" fill="#333">6</text>
<text x="388.00" y="543.33" font-size="5.8" text-anchor="middle" fill="#333">8</text>
<text x="406.00" y="543.33" font-size="5.8" text-anchor="middle" fill="#333">10</text>
<text x="424.00" y="543.33" font-size="5.8" text-anchor="middle" fill="#333">12</text>
<text x="438.80" y="543.33" font-size="5.8" text-anchor="middle" fill="#333">14</text>
<text x="452.50" y="543.33" font-size="5.8" text-anchor="middle" fill="#333">16</text>
<text x="463.60" y="543.33" font-size="5.8" text-anchor="middle" fill="#333">18</text>
<text x="471.00" y="543.33" font-size="5.8" text-anchor="middle" fill="#333">20</text>
<text x="478.60" y="543.33" font-size="5.8" text-anchor="middle" fill="#333">22</text>
<text x="301.00" y="664.43" font-size="5.8" text-anchor="middle" fill="#333">1</text>
<text x="331.20" y="664.43" font-size="5.8" text-anchor="middle" fill="#333">3</text>
<text x="356.80" y="664.43" font-size="5.8" text-anchor="middle" fill="#333">5</text>
<text x="378.50" y="664.43" font-size="5.8" text-anchor="middle" fill="#333">7</text>
<text x="397.20" y="664.43" font-size="5.8" text-anchor="middle" fill="#333">9</text>
<text x="415.40" y="664.43" font-size="5.8" text-anchor="middle" fill="#333">11</text>
<text x="431.60" y="664.43" font-size="5.8" text-anchor="middle" fill="#333">13</text>
<text x="445.60" y="664.43" font-size="5.8" text-anchor="middle" fill="#333">15</text>
<text x="457.50" y="664.43" font-size="5.8" text-anchor="middle" fill="#333">17</text>
<text x="466.80" y="664.43" font-size="5.8" text-anchor="middle" fill="#333">19</text>
<text x="475.30" y="664.43" font-size="5.8" text-anchor="middle" fill="#333">21</text>
<text x="484.80" y="664.43" font-size="5.8" text-anchor="middle" fill="#333">X</text>
</svg>
</body></html>
